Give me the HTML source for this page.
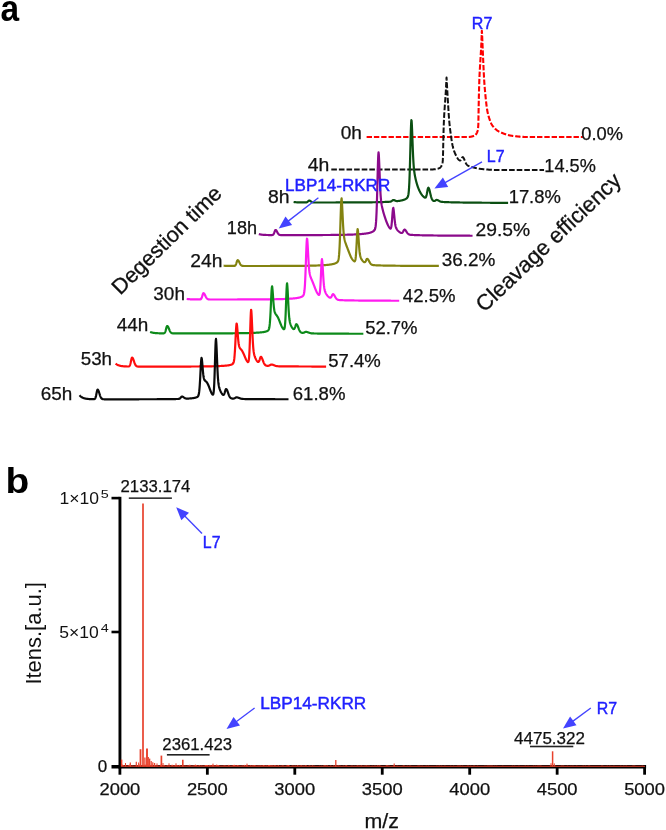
<!DOCTYPE html>
<html><head><meta charset="utf-8"><title>Figure</title>
<style>html,body{margin:0;padding:0;background:#fff;}body{width:666px;height:830px;overflow:hidden;font-family:"Liberation Sans",sans-serif;}svg text{font-family:"Liberation Sans",sans-serif;}</style>
</head><body>
<svg width="666" height="830" viewBox="0 0 666 830" style="display:block;will-change:transform">
<path d="M366.60,137.00 L366.85,137.00 L367.10,137.00 L367.35,137.00 L367.60,137.00 L367.85,137.00 L368.10,137.00 L368.35,137.00 L368.60,137.00 L368.85,137.00 L369.10,137.00 L369.35,137.00 L369.60,137.00 L369.85,137.00 L370.10,137.00 L370.35,137.00 L370.60,137.00 L370.85,137.00 L371.10,137.00 L371.35,137.00 L371.60,137.00 L371.85,137.00 L372.10,137.00 L372.35,137.00 L372.60,137.00 L372.85,137.00 L373.10,137.00 L373.35,137.00 L373.60,137.00 L373.85,137.00 L374.10,137.00 L374.35,137.00 L374.60,137.00 L374.85,137.00 L375.10,137.00 L375.35,137.00 L375.60,137.00 L375.85,137.00 L376.10,137.00 L376.35,137.00 L376.60,137.00 L376.85,137.00 L377.10,137.00 L377.35,137.00 L377.60,137.00 L377.85,137.00 L378.10,137.00 L378.35,137.00 L378.60,137.00 L378.85,137.00 L379.10,137.00 L379.35,137.00 L379.60,137.00 L379.85,137.00 L380.10,137.00 L380.35,137.00 L380.60,137.00 L380.85,137.00 L381.10,137.00 L381.35,137.00 L381.60,137.00 L381.85,137.00 L382.10,137.00 L382.35,137.00 L382.60,137.00 L382.85,137.00 L383.10,137.00 L383.35,137.00 L383.60,137.00 L383.85,137.00 L384.10,137.00 L384.35,137.00 L384.60,137.00 L384.85,137.00 L385.10,137.00 L385.35,137.00 L385.60,137.00 L385.85,137.00 L386.10,137.00 L386.35,137.00 L386.60,137.00 L386.85,137.00 L387.10,137.00 L387.35,137.00 L387.60,137.00 L387.85,137.00 L388.10,137.00 L388.35,137.00 L388.60,137.00 L388.85,137.00 L389.10,137.00 L389.35,137.00 L389.60,137.00 L389.85,137.00 L390.10,137.00 L390.35,137.00 L390.60,137.00 L390.85,137.00 L391.10,137.00 L391.35,137.00 L391.60,137.00 L391.85,137.00 L392.10,137.00 L392.35,137.00 L392.60,137.00 L392.85,137.00 L393.10,137.00 L393.35,137.00 L393.60,137.00 L393.85,137.00 L394.10,137.00 L394.35,137.00 L394.60,137.00 L394.85,137.00 L395.10,137.00 L395.35,137.00 L395.60,137.00 L395.85,137.00 L396.10,137.00 L396.35,137.00 L396.60,137.00 L396.85,137.00 L397.10,137.00 L397.35,137.00 L397.60,137.00 L397.85,137.00 L398.10,137.00 L398.35,137.00 L398.60,137.00 L398.85,137.00 L399.10,137.00 L399.35,137.00 L399.60,137.00 L399.85,137.00 L400.10,137.00 L400.35,137.00 L400.60,137.00 L400.85,137.00 L401.10,137.00 L401.35,137.00 L401.60,137.00 L401.85,137.00 L402.10,137.00 L402.35,137.00 L402.60,137.00 L402.85,137.00 L403.10,137.00 L403.35,137.00 L403.60,137.00 L403.85,137.00 L404.10,137.00 L404.35,137.00 L404.60,137.00 L404.85,137.00 L405.10,137.00 L405.35,137.00 L405.60,137.00 L405.85,137.00 L406.10,137.00 L406.35,137.00 L406.60,137.00 L406.85,137.00 L407.10,137.00 L407.35,137.00 L407.60,137.00 L407.85,137.00 L408.10,137.00 L408.35,137.00 L408.60,137.00 L408.85,137.00 L409.10,137.00 L409.35,137.00 L409.60,137.00 L409.85,137.00 L410.10,137.00 L410.35,137.00 L410.60,137.00 L410.85,137.00 L411.10,137.00 L411.35,137.00 L411.60,137.00 L411.85,137.00 L412.10,137.00 L412.35,137.00 L412.60,137.00 L412.85,137.00 L413.10,137.00 L413.35,137.00 L413.60,137.00 L413.85,137.00 L414.10,137.00 L414.35,137.00 L414.60,137.00 L414.85,137.00 L415.10,137.00 L415.35,137.00 L415.60,137.00 L415.85,137.00 L416.10,137.00 L416.35,137.00 L416.60,137.00 L416.85,137.00 L417.10,137.00 L417.35,137.00 L417.60,137.00 L417.85,137.00 L418.10,137.00 L418.35,137.00 L418.60,137.00 L418.85,137.00 L419.10,137.00 L419.35,137.00 L419.60,137.00 L419.85,137.00 L420.10,137.00 L420.35,137.00 L420.60,137.00 L420.85,137.00 L421.10,137.00 L421.35,137.00 L421.60,137.00 L421.85,137.00 L422.10,137.00 L422.35,137.00 L422.60,137.00 L422.85,137.00 L423.10,137.00 L423.35,137.00 L423.60,137.00 L423.85,137.00 L424.10,137.00 L424.35,137.00 L424.60,137.00 L424.85,137.00 L425.10,137.00 L425.35,137.00 L425.60,137.00 L425.85,137.00 L426.10,137.00 L426.35,137.00 L426.60,137.00 L426.85,137.00 L427.10,137.00 L427.35,137.00 L427.60,137.00 L427.85,137.00 L428.10,137.00 L428.35,137.00 L428.60,137.00 L428.85,137.00 L429.10,137.00 L429.35,137.00 L429.60,137.00 L429.85,137.00 L430.10,137.00 L430.35,137.00 L430.60,137.00 L430.85,137.00 L431.10,137.00 L431.35,137.00 L431.60,137.00 L431.85,137.00 L432.10,137.00 L432.35,137.00 L432.60,137.00 L432.85,137.00 L433.10,137.00 L433.35,137.00 L433.60,137.00 L433.85,137.00 L434.10,137.00 L434.35,137.00 L434.60,137.00 L434.85,137.00 L435.10,137.00 L435.35,137.00 L435.60,137.00 L435.85,137.00 L436.10,137.00 L436.35,137.00 L436.60,137.00 L436.85,137.00 L437.10,137.00 L437.35,137.00 L437.60,137.00 L437.85,137.00 L438.10,137.00 L438.35,137.00 L438.60,137.00 L438.85,137.00 L439.10,137.00 L439.35,137.00 L439.60,137.00 L439.85,137.00 L440.10,137.00 L440.35,137.00 L440.60,137.00 L440.85,137.00 L441.10,137.00 L441.35,137.00 L441.60,137.00 L441.85,137.00 L442.10,137.00 L442.35,137.00 L442.60,137.00 L442.85,137.00 L443.10,137.00 L443.35,137.00 L443.60,137.00 L443.85,137.00 L444.10,137.00 L444.35,137.00 L444.60,137.00 L444.85,137.00 L445.10,137.00 L445.35,137.00 L445.60,137.00 L445.85,137.00 L446.10,137.00 L446.35,137.00 L446.60,137.00 L446.85,137.00 L447.10,137.00 L447.35,137.00 L447.60,137.00 L447.85,137.00 L448.10,137.00 L448.35,137.00 L448.60,137.00 L448.85,137.00 L449.10,137.00 L449.35,137.00 L449.60,137.00 L449.85,137.00 L450.10,137.00 L450.35,137.00 L450.60,137.00 L450.85,137.00 L451.10,137.00 L451.35,137.00 L451.60,137.00 L451.85,137.00 L452.10,137.00 L452.35,137.00 L452.60,137.00 L452.85,137.00 L453.10,137.00 L453.35,137.00 L453.60,137.00 L453.85,137.00 L454.10,137.00 L454.35,137.00 L454.60,137.00 L454.85,137.00 L455.10,137.00 L455.35,137.00 L455.60,137.00 L455.85,137.00 L456.10,137.00 L456.35,137.00 L456.60,137.00 L456.85,137.00 L457.10,137.00 L457.35,137.00 L457.60,137.00 L457.85,137.00 L458.10,137.00 L458.35,137.00 L458.60,137.00 L458.85,137.00 L459.10,137.00 L459.35,137.00 L459.60,137.00 L459.85,137.00 L460.10,137.00 L460.35,137.00 L460.60,137.00 L460.85,137.00 L461.10,137.00 L461.35,137.00 L461.60,137.00 L461.85,137.00 L462.10,137.00 L462.35,137.00 L462.60,137.00 L462.85,137.00 L463.10,137.00 L463.35,137.00 L463.60,137.00 L463.85,137.00 L464.10,137.00 L464.35,137.00 L464.60,137.00 L464.85,137.00 L465.10,137.00 L465.35,137.00 L465.60,137.00 L465.85,137.00 L466.10,137.00 L466.35,137.00 L466.60,137.00 L466.85,137.00 L467.10,137.00 L467.35,137.00 L467.60,137.00 L467.85,137.00 L468.10,137.00 L468.35,136.99 L468.60,136.98 L468.85,136.97 L469.10,136.95 L469.35,136.93 L469.60,136.91 L469.85,136.88 L470.10,136.84 L470.35,136.81 L470.60,136.77 L470.85,136.72 L471.10,136.67 L471.35,136.62 L471.60,136.57 L471.85,136.51 L472.10,136.45 L472.35,136.38 L472.60,136.31 L472.85,136.24 L473.10,136.16 L473.35,136.08 L473.60,136.00 L473.85,135.91 L474.10,135.82 L474.35,135.73 L474.60,135.62 L474.85,135.49 L475.10,135.31 L475.35,135.10 L475.60,134.85 L475.85,134.56 L476.10,134.22 L476.35,133.83 L476.60,133.39 L476.85,132.90 L477.10,132.36 L477.35,131.75 L477.60,131.02 L477.85,129.82 L478.10,127.85 L478.35,124.23 L478.60,110.12 L478.85,97.27 L479.10,87.40 L479.35,79.77 L479.60,74.11 L479.85,69.40 L480.10,64.97 L480.35,60.80 L480.60,56.99 L480.85,53.11 L481.10,48.75 L481.35,43.52 L481.60,37.50 L481.85,30.88 L482.10,34.48 L482.35,40.60 L482.60,46.59 L482.85,52.50 L483.10,58.33 L483.35,63.90 L483.60,69.27 L483.85,74.48 L484.10,79.07 L484.35,82.82 L484.60,86.17 L484.85,89.20 L485.10,91.98 L485.35,94.57 L485.60,97.06 L485.85,99.49 L486.10,101.82 L486.35,104.03 L486.60,106.07 L486.85,107.92 L487.10,109.55 L487.35,110.94 L487.60,112.21 L487.85,113.38 L488.10,114.45 L488.35,115.44 L488.60,116.34 L488.85,117.18 L489.10,117.95 L489.35,118.70 L489.60,119.43 L489.85,120.12 L490.10,120.80 L490.35,121.44 L490.60,122.06 L490.85,122.64 L491.10,123.20 L491.35,123.72 L491.60,124.20 L491.85,124.65 L492.10,125.06 L492.35,125.43 L492.60,125.77 L492.85,126.10 L493.10,126.41 L493.35,126.72 L493.60,127.03 L493.85,127.32 L494.10,127.60 L494.35,127.88 L494.60,128.14 L494.85,128.40 L495.10,128.65 L495.35,128.89 L495.60,129.12 L495.85,129.35 L496.10,129.56 L496.35,129.77 L496.60,129.97 L496.85,130.16 L497.10,130.35 L497.35,130.53 L497.60,130.70 L497.85,130.86 L498.10,131.02 L498.35,131.17 L498.60,131.31 L498.85,131.45 L499.10,131.58 L499.35,131.70 L499.60,131.82 L499.85,131.94 L500.10,132.06 L500.35,132.17 L500.60,132.29 L500.85,132.40 L501.10,132.52 L501.35,132.63 L501.60,132.74 L501.85,132.84 L502.10,132.95 L502.35,133.05 L502.60,133.16 L502.85,133.26 L503.10,133.36 L503.35,133.45 L503.60,133.55 L503.85,133.64 L504.10,133.74 L504.35,133.83 L504.60,133.92 L504.85,134.01 L505.10,134.09 L505.35,134.18 L505.60,134.26 L505.85,134.34 L506.10,134.42 L506.35,134.50 L506.60,134.58 L506.85,134.65 L507.10,134.72 L507.35,134.80 L507.60,134.86 L507.85,134.93 L508.10,135.00 L508.35,135.06 L508.60,135.13 L508.85,135.19 L509.10,135.25 L509.35,135.30 L509.60,135.36 L509.85,135.41 L510.10,135.46 L510.35,135.51 L510.60,135.56 L510.85,135.61 L511.10,135.66 L511.35,135.70 L511.60,135.74 L511.85,135.78 L512.10,135.82 L512.35,135.85 L512.60,135.89 L512.85,135.92 L513.10,135.95 L513.35,135.98 L513.60,136.01 L513.85,136.04 L514.10,136.07 L514.35,136.10 L514.60,136.13 L514.85,136.16 L515.10,136.19 L515.35,136.22 L515.60,136.25 L515.85,136.28 L516.10,136.30 L516.35,136.33 L516.60,136.36 L516.85,136.39 L517.10,136.41 L517.35,136.44 L517.60,136.46 L517.85,136.49 L518.10,136.51 L518.35,136.54 L518.60,136.56 L518.85,136.59 L519.10,136.61 L519.35,136.63 L519.60,136.65 L519.85,136.67 L520.10,136.70 L520.35,136.72 L520.60,136.74 L520.85,136.75 L521.10,136.77 L521.35,136.79 L521.60,136.81 L521.85,136.83 L522.10,136.84 L522.35,136.86 L522.60,136.87 L522.85,136.89 L523.10,136.90 L523.35,136.91 L523.60,136.92 L523.85,136.93 L524.10,136.94 L524.35,136.95 L524.60,136.96 L524.85,136.97 L525.10,136.98 L525.35,136.98 L525.60,136.99 L525.85,136.99 L526.10,137.00 L526.35,137.00 L526.60,137.00 L526.85,137.00 L527.10,137.00 L527.35,137.00 L527.60,137.00 L527.85,137.00 L528.10,137.00 L528.35,137.00 L528.60,137.00 L528.85,137.00 L529.10,137.00 L529.35,137.00 L529.60,137.00 L529.85,137.00 L530.10,137.00 L530.35,137.00 L530.60,137.00 L530.85,137.00 L531.10,137.00 L531.35,137.00 L531.60,137.00 L531.85,137.00 L532.10,137.00 L532.35,137.00 L532.60,137.00 L532.85,137.00 L533.10,137.00 L533.35,137.00 L533.60,137.00 L533.85,137.00 L534.10,137.00 L534.35,137.00 L534.60,137.00 L534.85,137.00 L535.10,137.00 L535.35,137.00 L535.60,137.00 L535.85,137.00 L536.10,137.00 L536.35,137.00 L536.60,137.00 L536.85,137.00 L537.10,137.00 L537.35,137.00 L537.60,137.00 L537.85,137.00 L538.10,137.00 L538.35,137.00 L538.60,137.00 L538.85,137.00 L539.10,137.00 L539.35,137.00 L539.60,137.00 L539.85,137.00 L540.10,137.00 L540.35,137.00 L540.60,137.00 L540.85,137.00 L541.10,137.00 L541.35,137.00 L541.60,137.00 L541.85,137.00 L542.10,137.00 L542.35,137.00 L542.60,137.00 L542.85,137.00 L543.10,137.00 L543.35,137.00 L543.60,137.00 L543.85,137.00 L544.10,137.00 L544.35,137.00 L544.60,137.00 L544.85,137.00 L545.10,137.00 L545.35,137.00 L545.60,137.00 L545.85,137.00 L546.10,137.00 L546.35,137.00 L546.60,137.00 L546.85,137.00 L547.10,137.00 L547.35,137.00 L547.60,137.00 L547.85,137.00 L548.10,137.00 L548.35,137.00 L548.60,137.00 L548.85,137.00 L549.10,137.00 L549.35,137.00 L549.60,137.00 L549.85,137.00 L550.10,137.00 L550.35,137.00 L550.60,137.00 L550.85,137.00 L551.10,137.00 L551.35,137.00 L551.60,137.00 L551.85,137.00 L552.10,137.00 L552.35,137.00 L552.60,137.00 L552.85,137.00 L553.10,137.00 L553.35,137.00 L553.60,137.00 L553.85,137.00 L554.10,137.00 L554.35,137.00 L554.60,137.00 L554.85,137.00 L555.10,137.00 L555.35,137.00 L555.60,137.00 L555.85,137.00 L556.10,137.00 L556.35,137.00 L556.60,137.00 L556.85,137.00 L557.10,137.00 L557.35,137.00 L557.60,137.00 L557.85,137.00 L558.10,137.00 L558.35,137.00 L558.60,137.00 L558.85,137.00 L559.10,137.00 L559.35,137.00 L559.60,137.00 L559.85,137.00 L560.10,137.00 L560.35,137.00 L560.60,137.00 L560.85,137.00 L561.10,137.00 L561.35,137.00 L561.60,137.00 L561.85,137.00 L562.10,137.00 L562.35,137.00 L562.60,137.00 L562.85,137.00 L563.10,137.00 L563.35,137.00 L563.60,137.00 L563.85,137.00 L564.10,137.00 L564.35,137.00 L564.60,137.00 L564.85,137.00 L565.10,137.00 L565.35,137.00 L565.60,137.00 L565.85,137.00 L566.10,137.00 L566.35,137.00 L566.60,137.00 L566.85,137.00 L567.10,137.00 L567.35,137.00 L567.60,137.00 L567.85,137.00 L568.10,137.00 L568.35,137.00 L568.60,137.00 L568.85,137.00 L569.10,137.00 L569.35,137.00 L569.60,137.00 L569.85,137.00 L570.10,137.00 L570.35,137.00 L570.60,137.00 L570.85,137.00 L571.10,137.00 L571.35,137.00 L571.60,137.00 L571.85,137.00 L572.10,137.00 L572.35,137.00 L572.60,137.00 L572.85,137.00 L573.10,137.00 L573.35,137.00 L573.60,137.00 L573.85,137.00 L574.10,137.00 L574.35,137.00 L574.60,137.00 L574.85,137.00 L575.10,137.00 L575.35,137.00 L575.60,137.00 L575.85,137.00 L576.10,137.00 L576.35,137.00 L576.60,137.00 L576.85,137.00 L577.10,137.00 L577.35,137.00 L577.60,137.00 L577.85,137.00 L578.10,137.00 L578.35,137.00 L578.60,137.00 L578.85,137.00 L579.10,137.00 L579.35,137.00 L579.60,137.00 L579.85,137.00 L580.10,137.00 L580.35,137.00 L580.60,137.00 L580.85,137.00 L581.10,137.00 L581.35,137.00 L581.60,137.00 L581.85,137.00 L582.10,137.00 L582.35,137.00 L582.60,137.00 L582.85,137.00" fill="none" stroke="#ff0000" stroke-width="2.1" stroke-linejoin="round" stroke-linecap="butt" stroke-dasharray="5.4 1.9"/>
<path d="M331.30,169.40 L331.55,169.40 L331.80,169.40 L332.05,169.40 L332.30,169.40 L332.55,169.40 L332.80,169.40 L333.05,169.40 L333.30,169.40 L333.55,169.40 L333.80,169.40 L334.05,169.40 L334.30,169.40 L334.55,169.40 L334.80,169.40 L335.05,169.40 L335.30,169.40 L335.55,169.40 L335.80,169.40 L336.05,169.40 L336.30,169.40 L336.55,169.40 L336.80,169.40 L337.05,169.40 L337.30,169.40 L337.55,169.40 L337.80,169.40 L338.05,169.40 L338.30,169.40 L338.55,169.40 L338.80,169.40 L339.05,169.40 L339.30,169.40 L339.55,169.40 L339.80,169.40 L340.05,169.40 L340.30,169.40 L340.55,169.40 L340.80,169.40 L341.05,169.40 L341.30,169.40 L341.55,169.40 L341.80,169.40 L342.05,169.40 L342.30,169.40 L342.55,169.40 L342.80,169.40 L343.05,169.40 L343.30,169.40 L343.55,169.40 L343.80,169.40 L344.05,169.40 L344.30,169.40 L344.55,169.40 L344.80,169.40 L345.05,169.40 L345.30,169.40 L345.55,169.40 L345.80,169.40 L346.05,169.40 L346.30,169.40 L346.55,169.40 L346.80,169.40 L347.05,169.40 L347.30,169.40 L347.55,169.40 L347.80,169.40 L348.05,169.40 L348.30,169.40 L348.55,169.40 L348.80,169.40 L349.05,169.40 L349.30,169.40 L349.55,169.40 L349.80,169.40 L350.05,169.40 L350.30,169.40 L350.55,169.40 L350.80,169.40 L351.05,169.40 L351.30,169.40 L351.55,169.40 L351.80,169.40 L352.05,169.40 L352.30,169.40 L352.55,169.40 L352.80,169.40 L353.05,169.40 L353.30,169.40 L353.55,169.40 L353.80,169.40 L354.05,169.40 L354.30,169.40 L354.55,169.40 L354.80,169.40 L355.05,169.40 L355.30,169.40 L355.55,169.40 L355.80,169.40 L356.05,169.40 L356.30,169.40 L356.55,169.40 L356.80,169.40 L357.05,169.40 L357.30,169.40 L357.55,169.40 L357.80,169.40 L358.05,169.40 L358.30,169.40 L358.55,169.40 L358.80,169.40 L359.05,169.40 L359.30,169.40 L359.55,169.40 L359.80,169.40 L360.05,169.40 L360.30,169.40 L360.55,169.40 L360.80,169.40 L361.05,169.40 L361.30,169.40 L361.55,169.40 L361.80,169.40 L362.05,169.40 L362.30,169.40 L362.55,169.40 L362.80,169.40 L363.05,169.40 L363.30,169.40 L363.55,169.40 L363.80,169.40 L364.05,169.40 L364.30,169.40 L364.55,169.40 L364.80,169.40 L365.05,169.40 L365.30,169.40 L365.55,169.40 L365.80,169.40 L366.05,169.40 L366.30,169.40 L366.55,169.40 L366.80,169.40 L367.05,169.40 L367.30,169.40 L367.55,169.40 L367.80,169.40 L368.05,169.40 L368.30,169.40 L368.55,169.40 L368.80,169.40 L369.05,169.40 L369.30,169.40 L369.55,169.40 L369.80,169.40 L370.05,169.40 L370.30,169.40 L370.55,169.40 L370.80,169.40 L371.05,169.40 L371.30,169.40 L371.55,169.40 L371.80,169.40 L372.05,169.40 L372.30,169.40 L372.55,169.40 L372.80,169.40 L373.05,169.40 L373.30,169.40 L373.55,169.40 L373.80,169.40 L374.05,169.40 L374.30,169.40 L374.55,169.40 L374.80,169.40 L375.05,169.40 L375.30,169.40 L375.55,169.40 L375.80,169.40 L376.05,169.40 L376.30,169.40 L376.55,169.40 L376.80,169.40 L377.05,169.40 L377.30,169.40 L377.55,169.40 L377.80,169.40 L378.05,169.40 L378.30,169.40 L378.55,169.40 L378.80,169.40 L379.05,169.40 L379.30,169.40 L379.55,169.40 L379.80,169.40 L380.05,169.40 L380.30,169.40 L380.55,169.40 L380.80,169.40 L381.05,169.40 L381.30,169.40 L381.55,169.40 L381.80,169.40 L382.05,169.40 L382.30,169.40 L382.55,169.40 L382.80,169.40 L383.05,169.40 L383.30,169.40 L383.55,169.40 L383.80,169.40 L384.05,169.40 L384.30,169.40 L384.55,169.40 L384.80,169.40 L385.05,169.40 L385.30,169.40 L385.55,169.40 L385.80,169.40 L386.05,169.40 L386.30,169.40 L386.55,169.40 L386.80,169.40 L387.05,169.40 L387.30,169.40 L387.55,169.40 L387.80,169.40 L388.05,169.40 L388.30,169.40 L388.55,169.40 L388.80,169.40 L389.05,169.40 L389.30,169.40 L389.55,169.40 L389.80,169.40 L390.05,169.40 L390.30,169.40 L390.55,169.40 L390.80,169.40 L391.05,169.40 L391.30,169.40 L391.55,169.40 L391.80,169.40 L392.05,169.40 L392.30,169.40 L392.55,169.40 L392.80,169.40 L393.05,169.40 L393.30,169.40 L393.55,169.40 L393.80,169.40 L394.05,169.40 L394.30,169.40 L394.55,169.40 L394.80,169.40 L395.05,169.40 L395.30,169.40 L395.55,169.40 L395.80,169.40 L396.05,169.40 L396.30,169.40 L396.55,169.40 L396.80,169.40 L397.05,169.40 L397.30,169.40 L397.55,169.40 L397.80,169.40 L398.05,169.40 L398.30,169.40 L398.55,169.40 L398.80,169.40 L399.05,169.40 L399.30,169.40 L399.55,169.40 L399.80,169.40 L400.05,169.40 L400.30,169.40 L400.55,169.40 L400.80,169.40 L401.05,169.40 L401.30,169.40 L401.55,169.40 L401.80,169.40 L402.05,169.40 L402.30,169.40 L402.55,169.40 L402.80,169.40 L403.05,169.40 L403.30,169.40 L403.55,169.40 L403.80,169.40 L404.05,169.40 L404.30,169.40 L404.55,169.40 L404.80,169.40 L405.05,169.40 L405.30,169.40 L405.55,169.40 L405.80,169.40 L406.05,169.40 L406.30,169.40 L406.55,169.40 L406.80,169.40 L407.05,169.40 L407.30,169.40 L407.55,169.40 L407.80,169.40 L408.05,169.40 L408.30,169.40 L408.55,169.40 L408.80,169.40 L409.05,169.40 L409.30,169.40 L409.55,169.40 L409.80,169.40 L410.05,169.40 L410.30,169.40 L410.55,169.40 L410.80,169.40 L411.05,169.40 L411.30,169.40 L411.55,169.40 L411.80,169.40 L412.05,169.40 L412.30,169.40 L412.55,169.40 L412.80,169.40 L413.05,169.40 L413.30,169.40 L413.55,169.40 L413.80,169.40 L414.05,169.40 L414.30,169.40 L414.55,169.40 L414.80,169.40 L415.05,169.40 L415.30,169.40 L415.55,169.40 L415.80,169.40 L416.05,169.40 L416.30,169.40 L416.55,169.40 L416.80,169.40 L417.05,169.40 L417.30,169.40 L417.55,169.40 L417.80,169.40 L418.05,169.40 L418.30,169.40 L418.55,169.40 L418.80,169.40 L419.05,169.40 L419.30,169.40 L419.55,169.40 L419.80,169.40 L420.05,169.40 L420.30,169.40 L420.55,169.40 L420.80,169.40 L421.05,169.40 L421.30,169.40 L421.55,169.40 L421.80,169.40 L422.05,169.40 L422.30,169.40 L422.55,169.40 L422.80,169.40 L423.05,169.40 L423.30,169.40 L423.55,169.40 L423.80,169.40 L424.05,169.40 L424.30,169.40 L424.55,169.40 L424.80,169.40 L425.05,169.40 L425.30,169.40 L425.55,169.40 L425.80,169.40 L426.05,169.40 L426.30,169.40 L426.55,169.40 L426.80,169.40 L427.05,169.40 L427.30,169.40 L427.55,169.40 L427.80,169.40 L428.05,169.40 L428.30,169.40 L428.55,169.40 L428.80,169.40 L429.05,169.40 L429.30,169.40 L429.55,169.40 L429.80,169.40 L430.05,169.40 L430.30,169.40 L430.55,169.40 L430.80,169.40 L431.05,169.40 L431.30,169.40 L431.55,169.40 L431.80,169.40 L432.05,169.40 L432.30,169.40 L432.55,169.40 L432.80,169.40 L433.05,169.39 L433.30,169.39 L433.55,169.37 L433.80,169.36 L434.05,169.34 L434.30,169.31 L434.55,169.29 L434.80,169.26 L435.05,169.22 L435.30,169.19 L435.55,169.15 L435.80,169.11 L436.05,169.06 L436.30,169.01 L436.55,168.96 L436.80,168.91 L437.05,168.85 L437.30,168.79 L437.55,168.72 L437.80,168.66 L438.05,168.59 L438.30,168.52 L438.55,168.44 L438.80,168.36 L439.05,168.28 L439.30,168.18 L439.55,168.05 L439.80,167.89 L440.05,167.69 L440.30,167.46 L440.55,167.19 L440.80,166.88 L441.05,166.53 L441.30,166.14 L441.55,165.70 L441.80,165.21 L442.05,164.67 L442.30,163.91 L442.55,162.64 L442.80,160.59 L443.05,154.05 L443.30,141.68 L443.55,131.46 L443.80,123.68 L444.05,117.89 L444.30,113.40 L444.55,109.50 L444.80,105.70 L445.05,102.27 L445.30,99.00 L445.55,95.53 L445.80,91.48 L446.05,86.68 L446.30,81.25 L446.55,77.49 L446.80,82.04 L447.05,86.51 L447.30,90.91 L447.55,95.24 L447.80,99.55 L448.05,103.74 L448.30,107.74 L448.55,111.67 L448.80,115.48 L449.05,118.90 L449.30,121.76 L449.55,124.32 L449.80,126.66 L450.05,128.83 L450.30,130.84 L450.55,132.75 L450.80,134.59 L451.05,136.39 L451.30,138.15 L451.55,139.83 L451.80,141.43 L452.05,142.92 L452.30,144.30 L452.55,145.53 L452.80,146.62 L453.05,147.60 L453.30,148.52 L453.55,149.37 L453.80,150.16 L454.05,150.90 L454.30,151.59 L454.55,152.24 L454.80,152.84 L455.05,153.41 L455.30,153.97 L455.55,154.51 L455.80,155.04 L456.05,155.55 L456.30,156.04 L456.55,156.52 L456.80,156.98 L457.05,157.41 L457.30,157.83 L457.55,158.23 L457.80,158.60 L458.05,158.95 L458.30,159.28 L458.55,159.57 L458.80,159.83 L459.05,160.05 L459.30,160.25 L459.55,160.40 L459.80,160.51 L460.05,160.54 L460.30,160.49 L460.55,160.34 L460.80,160.08 L461.05,159.72 L461.30,159.27 L461.55,158.76 L461.80,158.24 L462.05,157.75 L462.30,157.37 L462.55,157.14 L462.80,157.11 L463.05,157.28 L463.30,157.56 L463.55,157.93 L463.80,158.39 L464.05,158.91 L464.30,159.49 L464.55,160.10 L464.80,160.73 L465.05,161.35 L465.30,161.94 L465.55,162.51 L465.80,163.03 L466.05,163.51 L466.30,163.93 L466.55,164.30 L466.80,164.62 L467.05,164.90 L467.30,165.14 L467.55,165.34 L467.80,165.52 L468.05,165.67 L468.30,165.81 L468.55,165.93 L468.80,166.04 L469.05,166.14 L469.30,166.23 L469.55,166.32 L469.80,166.41 L470.05,166.49 L470.30,166.57 L470.55,166.65 L470.80,166.73 L471.05,166.80 L471.30,166.88 L471.55,166.95 L471.80,167.02 L472.05,167.09 L472.30,167.16 L472.55,167.23 L472.80,167.30 L473.05,167.37 L473.30,167.43 L473.55,167.50 L473.80,167.56 L474.05,167.63 L474.30,167.69 L474.55,167.75 L474.80,167.81 L475.05,167.87 L475.30,167.92 L475.55,167.98 L475.80,168.04 L476.05,168.09 L476.30,168.14 L476.55,168.20 L476.80,168.25 L477.05,168.30 L477.30,168.35 L477.55,168.39 L477.80,168.44 L478.05,168.49 L478.30,168.53 L478.55,168.57 L478.80,168.62 L479.05,168.66 L479.30,168.70 L479.55,168.74 L479.80,168.78 L480.05,168.81 L480.30,168.85 L480.55,168.88 L480.80,168.92 L481.05,168.95 L481.30,168.98 L481.55,169.01 L481.80,169.04 L482.05,169.07 L482.30,169.09 L482.55,169.12 L482.80,169.14 L483.05,169.17 L483.30,169.19 L483.55,169.21 L483.80,169.24 L484.05,169.26 L484.30,169.28 L484.55,169.30 L484.80,169.32 L485.05,169.35 L485.30,169.37 L485.55,169.39 L485.80,169.41 L486.05,169.43 L486.30,169.45 L486.55,169.47 L486.80,169.49 L487.05,169.51 L487.30,169.53 L487.55,169.55 L487.80,169.57 L488.05,169.59 L488.30,169.61 L488.55,169.63 L488.80,169.65 L489.05,169.67 L489.30,169.69 L489.55,169.70 L489.80,169.72 L490.05,169.74 L490.30,169.76 L490.55,169.77 L490.80,169.79 L491.05,169.80 L491.30,169.82 L491.55,169.84 L491.80,169.85 L492.05,169.86 L492.30,169.88 L492.55,169.89 L492.80,169.91 L493.05,169.92 L493.30,169.93 L493.55,169.94 L493.80,169.96 L494.05,169.97 L494.30,169.98 L494.55,169.99 L494.80,170.00 L495.05,170.01 L495.30,170.02 L495.55,170.03 L495.80,170.04 L496.05,170.04 L496.30,170.05 L496.55,170.06 L496.80,170.06 L497.05,170.07 L497.30,170.08 L497.55,170.08 L497.80,170.09 L498.05,170.09 L498.30,170.09 L498.55,170.09 L498.80,170.10 L499.05,170.10 L499.30,170.10 L499.55,170.10 L499.80,170.10 L500.05,170.10 L500.30,170.10 L500.55,170.10 L500.80,170.10 L501.05,170.10 L501.30,170.10 L501.55,170.10 L501.80,170.10 L502.05,170.10 L502.30,170.10 L502.55,170.10 L502.80,170.10 L503.05,170.10 L503.30,170.10 L503.55,170.10 L503.80,170.10 L504.05,170.10 L504.30,170.10 L504.55,170.10 L504.80,170.10 L505.05,170.10 L505.30,170.10 L505.55,170.10 L505.80,170.10 L506.05,170.10 L506.30,170.10 L506.55,170.10 L506.80,170.10 L507.05,170.10 L507.30,170.10 L507.55,170.10 L507.80,170.10 L508.05,170.10 L508.30,170.10 L508.55,170.10 L508.80,170.10 L509.05,170.10 L509.30,170.10 L509.55,170.10 L509.80,170.10 L510.05,170.10 L510.30,170.10 L510.55,170.10 L510.80,170.10 L511.05,170.10 L511.30,170.10 L511.55,170.10 L511.80,170.10 L512.05,170.10 L512.30,170.10 L512.55,170.10 L512.80,170.10 L513.05,170.10 L513.30,170.10 L513.55,170.10 L513.80,170.10 L514.05,170.10 L514.30,170.10 L514.55,170.10 L514.80,170.10 L515.05,170.10 L515.30,170.10 L515.55,170.10 L515.80,170.10 L516.05,170.10 L516.30,170.10 L516.55,170.10 L516.80,170.10 L517.05,170.10 L517.30,170.10 L517.55,170.10 L517.80,170.10 L518.05,170.10 L518.30,170.10 L518.55,170.10 L518.80,170.10 L519.05,170.10 L519.30,170.10 L519.55,170.10 L519.80,170.10 L520.05,170.10 L520.30,170.10 L520.55,170.10 L520.80,170.10 L521.05,170.10 L521.30,170.10 L521.55,170.10 L521.80,170.10 L522.05,170.10 L522.30,170.10 L522.55,170.10 L522.80,170.10 L523.05,170.10 L523.30,170.10 L523.55,170.10 L523.80,170.10 L524.05,170.10 L524.30,170.10 L524.55,170.10 L524.80,170.10 L525.05,170.10 L525.30,170.10 L525.55,170.10 L525.80,170.10 L526.05,170.10 L526.30,170.10 L526.55,170.10 L526.80,170.10 L527.05,170.10 L527.30,170.10 L527.55,170.10 L527.80,170.10 L528.05,170.10 L528.30,170.10 L528.55,170.10 L528.80,170.10 L529.05,170.10 L529.30,170.10 L529.55,170.10 L529.80,170.10 L530.05,170.10 L530.30,170.10 L530.55,170.10 L530.80,170.10 L531.05,170.10 L531.30,170.10 L531.55,170.10 L531.80,170.10 L532.05,170.10 L532.30,170.10 L532.55,170.10 L532.80,170.10 L533.05,170.10 L533.30,170.10 L533.55,170.10 L533.80,170.10 L534.05,170.10 L534.30,170.10 L534.55,170.10 L534.80,170.10 L535.05,170.10 L535.30,170.10 L535.55,170.10 L535.80,170.10 L536.05,170.10 L536.30,170.10 L536.55,170.10 L536.80,170.10 L537.05,170.10 L537.30,170.10 L537.55,170.10 L537.80,170.10 L538.05,170.10 L538.30,170.10 L538.55,170.10 L538.80,170.10 L539.05,170.10 L539.30,170.10 L539.55,170.10 L539.80,170.10 L540.05,170.10 L540.30,170.10 L540.55,170.10 L540.80,170.10 L541.05,170.10 L541.30,170.10 L541.55,170.10 L541.80,170.10 L542.05,170.10 L542.30,170.10 L542.55,170.10 L542.80,170.10 L543.05,170.10 L543.30,170.10 L543.55,170.10 L543.80,170.10 L544.05,170.10" fill="none" stroke="#111" stroke-width="2.0" stroke-linejoin="round" stroke-linecap="butt" stroke-dasharray="5.6 2.0"/>
<path d="M293.60,201.99 L293.85,202.03 L294.10,202.06 L294.35,202.09 L294.60,202.12 L294.85,202.14 L295.10,202.17 L295.35,202.19 L295.60,202.21 L295.85,202.23 L296.10,202.25 L296.35,202.27 L296.60,202.28 L296.85,202.30 L297.10,202.31 L297.35,202.32 L297.60,202.33 L297.85,202.35 L298.10,202.36 L298.35,202.37 L298.60,202.37 L298.85,202.38 L299.10,202.39 L299.35,202.40 L299.60,202.40 L299.85,202.41 L300.10,202.42 L300.35,202.42 L300.60,202.43 L300.85,202.43 L301.10,202.43 L301.35,202.44 L301.60,202.44 L301.85,202.45 L302.10,202.45 L302.35,202.45 L302.60,202.45 L302.85,202.46 L303.10,202.46 L303.35,202.46 L303.60,202.46 L303.85,202.47 L304.10,202.47 L304.35,202.47 L304.60,202.47 L304.85,202.47 L305.10,202.47 L305.35,202.47 L305.60,202.46 L305.85,202.45 L306.10,202.42 L306.35,202.39 L306.60,202.33 L306.85,202.24 L307.10,202.13 L307.35,201.97 L307.60,201.79 L307.85,201.57 L308.10,201.33 L308.35,201.10 L308.60,200.88 L308.85,200.71 L309.10,200.61 L309.35,200.59 L309.60,200.62 L309.85,200.71 L310.10,200.84 L310.35,201.00 L310.60,201.18 L310.85,201.37 L311.10,201.56 L311.35,201.74 L311.60,201.90 L311.85,202.04 L312.10,202.16 L312.35,202.25 L312.60,202.32 L312.85,202.37 L313.10,202.41 L313.35,202.44 L313.60,202.46 L313.85,202.47 L314.10,202.48 L314.35,202.48 L314.60,202.48 L314.85,202.49 L315.10,202.49 L315.35,202.49 L315.60,202.49 L315.85,202.49 L316.10,202.49 L316.35,202.49 L316.60,202.49 L316.85,202.49 L317.10,202.49 L317.35,202.49 L317.60,202.49 L317.85,202.49 L318.10,202.49 L318.35,202.49 L318.60,202.49 L318.85,202.49 L319.10,202.49 L319.35,202.49 L319.60,202.49 L319.85,202.49 L320.10,202.49 L320.35,202.49 L320.60,202.49 L320.85,202.49 L321.10,202.49 L321.35,202.49 L321.60,202.49 L321.85,202.49 L322.10,202.49 L322.35,202.49 L322.60,202.49 L322.85,202.49 L323.10,202.49 L323.35,202.49 L323.60,202.49 L323.85,202.49 L324.10,202.49 L324.35,202.49 L324.60,202.49 L324.85,202.48 L325.10,202.48 L325.35,202.48 L325.60,202.48 L325.85,202.48 L326.10,202.48 L326.35,202.48 L326.60,202.48 L326.85,202.48 L327.10,202.48 L327.35,202.48 L327.60,202.48 L327.85,202.48 L328.10,202.48 L328.35,202.48 L328.60,202.48 L328.85,202.48 L329.10,202.48 L329.35,202.48 L329.60,202.48 L329.85,202.48 L330.10,202.48 L330.35,202.48 L330.60,202.48 L330.85,202.48 L331.10,202.48 L331.35,202.48 L331.60,202.48 L331.85,202.48 L332.10,202.48 L332.35,202.48 L332.60,202.48 L332.85,202.48 L333.10,202.48 L333.35,202.48 L333.60,202.48 L333.85,202.48 L334.10,202.48 L334.35,202.48 L334.60,202.48 L334.85,202.48 L335.10,202.48 L335.35,202.48 L335.60,202.48 L335.85,202.47 L336.10,202.47 L336.35,202.47 L336.60,202.47 L336.85,202.47 L337.10,202.47 L337.35,202.47 L337.60,202.47 L337.85,202.47 L338.10,202.47 L338.35,202.47 L338.60,202.47 L338.85,202.47 L339.10,202.47 L339.35,202.47 L339.60,202.47 L339.85,202.47 L340.10,202.47 L340.35,202.47 L340.60,202.47 L340.85,202.47 L341.10,202.47 L341.35,202.47 L341.60,202.47 L341.85,202.47 L342.10,202.47 L342.35,202.46 L342.60,202.46 L342.85,202.46 L343.10,202.46 L343.35,202.46 L343.60,202.46 L343.85,202.46 L344.10,202.46 L344.35,202.46 L344.60,202.46 L344.85,202.46 L345.10,202.46 L345.35,202.46 L345.60,202.46 L345.85,202.46 L346.10,202.46 L346.35,202.46 L346.60,202.46 L346.85,202.45 L347.10,202.45 L347.35,202.45 L347.60,202.45 L347.85,202.45 L348.10,202.45 L348.35,202.45 L348.60,202.45 L348.85,202.45 L349.10,202.45 L349.35,202.45 L349.60,202.45 L349.85,202.45 L350.10,202.45 L350.35,202.44 L350.60,202.44 L350.85,202.44 L351.10,202.44 L351.35,202.44 L351.60,202.44 L351.85,202.44 L352.10,202.44 L352.35,202.44 L352.60,202.44 L352.85,202.44 L353.10,202.44 L353.35,202.43 L353.60,202.43 L353.85,202.43 L354.10,202.43 L354.35,202.43 L354.60,202.43 L354.85,202.43 L355.10,202.43 L355.35,202.43 L355.60,202.42 L355.85,202.42 L356.10,202.42 L356.35,202.42 L356.60,202.42 L356.85,202.42 L357.10,202.42 L357.35,202.42 L357.60,202.41 L357.85,202.41 L358.10,202.41 L358.35,202.41 L358.60,202.41 L358.85,202.41 L359.10,202.41 L359.35,202.40 L359.60,202.40 L359.85,202.40 L360.10,202.40 L360.35,202.40 L360.60,202.40 L360.85,202.40 L361.10,202.39 L361.35,202.39 L361.60,202.39 L361.85,202.39 L362.10,202.39 L362.35,202.38 L362.60,202.38 L362.85,202.38 L363.10,202.38 L363.35,202.38 L363.60,202.38 L363.85,202.37 L364.10,202.37 L364.35,202.37 L364.60,202.37 L364.85,202.36 L365.10,202.36 L365.35,202.36 L365.60,202.36 L365.85,202.36 L366.10,202.35 L366.35,202.35 L366.60,202.35 L366.85,202.35 L367.10,202.34 L367.35,202.34 L367.60,202.34 L367.85,202.34 L368.10,202.33 L368.35,202.33 L368.60,202.33 L368.85,202.32 L369.10,202.32 L369.35,202.32 L369.60,202.32 L369.85,202.31 L370.10,202.31 L370.35,202.31 L370.60,202.30 L370.85,202.30 L371.10,202.30 L371.35,202.29 L371.60,202.29 L371.85,202.29 L372.10,202.28 L372.35,202.28 L372.60,202.27 L372.85,202.27 L373.10,202.27 L373.35,202.26 L373.60,202.26 L373.85,202.25 L374.10,202.25 L374.35,202.25 L374.60,202.24 L374.85,202.24 L375.10,202.23 L375.35,202.23 L375.60,202.22 L375.85,202.22 L376.10,202.21 L376.35,202.21 L376.60,202.20 L376.85,202.20 L377.10,202.19 L377.35,202.19 L377.60,202.18 L377.85,202.18 L378.10,202.17 L378.35,202.17 L378.60,202.16 L378.85,202.15 L379.10,202.15 L379.35,202.14 L379.60,202.14 L379.85,202.13 L380.10,202.12 L380.35,202.12 L380.60,202.11 L380.85,202.10 L381.10,202.10 L381.35,202.09 L381.60,202.08 L381.85,202.07 L382.10,202.07 L382.35,202.06 L382.60,202.05 L382.85,202.04 L383.10,202.03 L383.35,202.03 L383.60,202.02 L383.85,202.01 L384.10,202.00 L384.35,201.99 L384.60,201.98 L384.85,201.97 L385.10,201.96 L385.35,201.95 L385.60,201.94 L385.85,201.93 L386.10,201.92 L386.35,201.91 L386.60,201.90 L386.85,201.89 L387.10,201.88 L387.35,201.87 L387.60,201.85 L387.85,201.84 L388.10,201.83 L388.35,201.82 L388.60,201.80 L388.85,201.79 L389.10,201.78 L389.35,201.76 L389.60,201.74 L389.85,201.72 L390.10,201.69 L390.35,201.65 L390.60,201.59 L390.85,201.52 L391.10,201.42 L391.35,201.30 L391.60,201.14 L391.85,200.96 L392.10,200.76 L392.35,200.55 L392.60,200.36 L392.85,200.19 L393.10,200.07 L393.35,200.00 L393.60,200.00 L393.85,200.03 L394.10,200.10 L394.35,200.19 L394.60,200.31 L394.85,200.44 L395.10,200.56 L395.35,200.69 L395.60,200.79 L395.85,200.88 L396.10,200.96 L396.35,201.01 L396.60,201.05 L396.85,201.07 L397.10,201.07 L397.35,201.07 L397.60,201.05 L397.85,201.03 L398.10,201.01 L398.35,200.98 L398.60,200.95 L398.85,200.92 L399.10,200.88 L399.35,200.84 L399.60,200.80 L399.85,200.76 L400.10,200.72 L400.35,200.68 L400.60,200.63 L400.85,200.58 L401.10,200.53 L401.35,200.48 L401.60,200.43 L401.85,200.37 L402.10,200.31 L402.35,200.25 L402.60,200.18 L402.85,200.11 L403.10,200.04 L403.35,199.96 L403.60,199.88 L403.85,199.80 L404.10,199.71 L404.35,199.61 L404.60,199.51 L404.85,199.40 L405.10,199.28 L405.35,199.15 L405.60,199.01 L405.85,198.86 L406.10,198.70 L406.35,198.53 L406.60,198.33 L406.85,198.11 L407.10,197.86 L407.35,197.56 L407.60,197.17 L407.85,196.64 L408.10,195.87 L408.35,194.74 L408.60,193.06 L408.85,190.58 L409.10,187.05 L409.35,182.21 L409.60,175.88 L409.85,168.05 L410.10,158.97 L410.35,149.16 L410.60,139.40 L410.85,130.67 L411.10,123.99 L411.35,120.20 L411.60,120.67 L411.85,124.74 L412.10,130.33 L412.35,136.86 L412.60,143.69 L412.85,150.21 L413.10,155.99 L413.35,160.84 L413.60,164.74 L413.85,167.82 L414.10,170.25 L414.35,172.21 L414.60,173.86 L414.85,175.30 L415.10,176.59 L415.35,177.80 L415.60,178.92 L415.85,179.99 L416.10,181.01 L416.35,181.97 L416.60,182.89 L416.85,183.77 L417.10,184.60 L417.35,185.40 L417.60,186.15 L417.85,186.87 L418.10,187.56 L418.35,188.22 L418.60,188.84 L418.85,189.44 L419.10,190.01 L419.35,190.55 L419.60,191.06 L419.85,191.55 L420.10,192.02 L420.35,192.47 L420.60,192.90 L420.85,193.30 L421.10,193.69 L421.35,194.06 L421.60,194.41 L421.85,194.75 L422.10,195.07 L422.35,195.38 L422.60,195.67 L422.85,195.95 L423.10,196.22 L423.35,196.47 L423.60,196.71 L423.85,196.94 L424.10,197.15 L424.35,197.34 L424.60,197.50 L424.85,197.62 L425.10,197.68 L425.35,197.66 L425.60,197.51 L425.85,197.20 L426.10,196.70 L426.35,195.97 L426.60,195.00 L426.85,193.82 L427.10,192.49 L427.35,191.10 L427.60,189.79 L427.85,188.71 L428.10,187.99 L428.35,187.73 L428.60,187.89 L428.85,188.28 L429.10,188.87 L429.35,189.65 L429.60,190.56 L429.85,191.57 L430.10,192.64 L430.35,193.72 L430.60,194.78 L430.85,195.78 L431.10,196.70 L431.35,197.52 L431.60,198.24 L431.85,198.86 L432.10,199.37 L432.35,199.80 L432.60,200.13 L432.85,200.40 L433.10,200.61 L433.35,200.77 L433.60,200.88 L433.85,200.95 L434.10,200.98 L434.35,200.98 L434.60,200.93 L434.85,200.85 L435.10,200.73 L435.35,200.59 L435.60,200.42 L435.85,200.25 L436.10,200.10 L436.35,199.99 L436.60,199.93 L436.85,199.94 L437.10,199.98 L437.35,200.05 L437.60,200.14 L437.85,200.24 L438.10,200.36 L438.35,200.49 L438.60,200.63 L438.85,200.77 L439.10,200.91 L439.35,201.05 L439.60,201.18 L439.85,201.30 L440.10,201.40 L440.35,201.50 L440.60,201.58 L440.85,201.66 L441.10,201.72 L441.35,201.77 L441.60,201.82 L441.85,201.86 L442.10,201.89 L442.35,201.92 L442.60,201.94 L442.85,201.96 L443.10,201.98 L443.35,202.00 L443.60,202.01 L443.85,202.02 L444.10,202.04 L444.35,202.05 L444.60,202.06 L444.85,202.07 L445.10,202.08 L445.35,202.09 L445.60,202.10 L445.85,202.11 L446.10,202.12 L446.35,202.13 L446.60,202.14 L446.85,202.15 L447.10,202.16 L447.35,202.17 L447.60,202.18 L447.85,202.19 L448.10,202.20 L448.35,202.20 L448.60,202.21 L448.85,202.22 L449.10,202.23 L449.35,202.24 L449.60,202.24 L449.85,202.25 L450.10,202.26 L450.35,202.27 L450.60,202.27 L450.85,202.28 L451.10,202.29 L451.35,202.29 L451.60,202.30 L451.85,202.31 L452.10,202.31 L452.35,202.32 L452.60,202.33 L452.85,202.33 L453.10,202.34 L453.35,202.34 L453.60,202.35 L453.85,202.36 L454.10,202.36 L454.35,202.37 L454.60,202.37 L454.85,202.38 L455.10,202.38 L455.35,202.39 L455.60,202.40 L455.85,202.40 L456.10,202.41 L456.35,202.41 L456.60,202.42 L456.85,202.42 L457.10,202.43 L457.35,202.43 L457.60,202.44 L457.85,202.44 L458.10,202.45 L458.35,202.45 L458.60,202.45 L458.85,202.46 L459.10,202.46 L459.35,202.47 L459.60,202.47 L459.85,202.48 L460.10,202.48 L460.35,202.49 L460.60,202.49 L460.85,202.49 L461.10,202.50 L461.35,202.50 L461.60,202.51 L461.85,202.51 L462.10,202.51 L462.35,202.52 L462.60,202.52 L462.85,202.53 L463.10,202.53 L463.35,202.53 L463.60,202.54 L463.85,202.54 L464.10,202.54 L464.35,202.55 L464.60,202.55 L464.85,202.56 L465.10,202.56 L465.35,202.56 L465.60,202.57 L465.85,202.57 L466.10,202.57 L466.35,202.58 L466.60,202.58 L466.85,202.58 L467.10,202.59 L467.35,202.59 L467.60,202.59 L467.85,202.59 L468.10,202.60 L468.35,202.60 L468.60,202.60 L468.85,202.61 L469.10,202.61 L469.35,202.61 L469.60,202.62 L469.85,202.62 L470.10,202.62 L470.35,202.62 L470.60,202.63 L470.85,202.63 L471.10,202.63 L471.35,202.63 L471.60,202.64 L471.85,202.64 L472.10,202.64 L472.35,202.65 L472.60,202.65 L472.85,202.65 L473.10,202.65 L473.35,202.66 L473.60,202.66 L473.85,202.66 L474.10,202.66 L474.35,202.66 L474.60,202.67 L474.85,202.67 L475.10,202.67 L475.35,202.67 L475.60,202.68 L475.85,202.68 L476.10,202.68 L476.35,202.68 L476.60,202.68 L476.85,202.69 L477.10,202.69 L477.35,202.69 L477.60,202.69 L477.85,202.70 L478.10,202.70 L478.35,202.70 L478.60,202.70 L478.85,202.70 L479.10,202.71 L479.35,202.71 L479.60,202.71 L479.85,202.71 L480.10,202.71 L480.35,202.71 L480.60,202.72 L480.85,202.72 L481.10,202.72 L481.35,202.72 L481.60,202.72 L481.85,202.73 L482.10,202.73 L482.35,202.73 L482.60,202.73 L482.85,202.73 L483.10,202.73 L483.35,202.74 L483.60,202.74 L483.85,202.74 L484.10,202.74 L484.35,202.74 L484.60,202.74 L484.85,202.75 L485.10,202.75 L485.35,202.75 L485.60,202.75 L485.85,202.75 L486.10,202.75 L486.35,202.75 L486.60,202.76 L486.85,202.76 L487.10,202.76 L487.35,202.76 L487.60,202.76 L487.85,202.76 L488.10,202.76 L488.35,202.77 L488.60,202.77 L488.85,202.77 L489.10,202.77 L489.35,202.77 L489.60,202.77 L489.85,202.77 L490.10,202.77 L490.35,202.78 L490.60,202.78 L490.85,202.78 L491.10,202.78 L491.35,202.78 L491.60,202.78 L491.85,202.78 L492.10,202.78 L492.35,202.79 L492.60,202.79 L492.85,202.79 L493.10,202.79 L493.35,202.79 L493.60,202.79 L493.85,202.79 L494.10,202.79 L494.35,202.79 L494.60,202.80 L494.85,202.80 L495.10,202.80 L495.35,202.80 L495.60,202.80 L495.85,202.80 L496.10,202.80 L496.35,202.80 L496.60,202.80 L496.85,202.80 L497.10,202.81 L497.35,202.81 L497.60,202.81 L497.85,202.81 L498.10,202.81 L498.35,202.81 L498.60,202.81 L498.85,202.81 L499.10,202.81 L499.35,202.81 L499.60,202.81 L499.85,202.82 L500.10,202.82 L500.35,202.82 L500.60,202.82 L500.85,202.82 L501.10,202.82 L501.35,202.82 L501.60,202.82 L501.85,202.82 L502.10,202.82 L502.35,202.82 L502.60,202.82 L502.85,202.82 L503.10,202.83 L503.35,202.83 L503.60,202.83 L503.85,202.83 L504.10,202.83 L504.35,202.83 L504.60,202.83 L504.85,202.83 L505.10,202.83 L505.35,202.83 L505.60,202.83 L505.85,202.83 L506.10,202.83 L506.35,202.83 L506.60,202.84 L506.85,202.84 L507.10,202.84 L507.35,202.84 L507.60,202.84 L507.85,202.84 L508.10,202.84" fill="none" stroke="#0b4f12" stroke-width="2.2" stroke-linejoin="round" stroke-linecap="butt"/>
<path d="M258.80,234.09 L259.05,234.16 L259.30,234.23 L259.55,234.29 L259.80,234.34 L260.05,234.39 L260.30,234.44 L260.55,234.49 L260.80,234.53 L261.05,234.57 L261.30,234.60 L261.55,234.64 L261.80,234.67 L262.05,234.70 L262.30,234.73 L262.55,234.75 L262.80,234.78 L263.05,234.80 L263.30,234.82 L263.55,234.84 L263.80,234.85 L264.05,234.87 L264.30,234.89 L264.55,234.90 L264.80,234.91 L265.05,234.93 L265.30,234.94 L265.55,234.95 L265.80,234.96 L266.05,234.97 L266.30,234.98 L266.55,234.98 L266.80,234.99 L267.05,235.00 L267.30,235.01 L267.55,235.01 L267.80,235.02 L268.05,235.02 L268.30,235.03 L268.55,235.03 L268.80,235.04 L269.05,235.04 L269.30,235.04 L269.55,235.05 L269.80,235.05 L270.05,235.05 L270.30,235.06 L270.55,235.06 L270.80,235.06 L271.05,235.06 L271.30,235.06 L271.55,235.06 L271.80,235.06 L272.05,235.04 L272.30,235.01 L272.55,234.96 L272.80,234.87 L273.05,234.73 L273.30,234.50 L273.55,234.18 L273.80,233.74 L274.05,233.19 L274.30,232.54 L274.55,231.85 L274.80,231.17 L275.05,230.58 L275.30,230.17 L275.55,229.99 L275.80,230.02 L276.05,230.18 L276.30,230.45 L276.55,230.81 L276.80,231.24 L277.05,231.70 L277.30,232.19 L277.55,232.66 L277.80,233.11 L278.05,233.51 L278.30,233.86 L278.55,234.16 L278.80,234.40 L279.05,234.59 L279.30,234.74 L279.55,234.85 L279.80,234.93 L280.05,234.98 L280.30,235.02 L280.55,235.05 L280.80,235.06 L281.05,235.07 L281.30,235.08 L281.55,235.08 L281.80,235.09 L282.05,235.09 L282.30,235.09 L282.55,235.09 L282.80,235.09 L283.05,235.09 L283.30,235.09 L283.55,235.09 L283.80,235.09 L284.05,235.09 L284.30,235.09 L284.55,235.09 L284.80,235.09 L285.05,235.09 L285.30,235.09 L285.55,235.09 L285.80,235.09 L286.05,235.09 L286.30,235.09 L286.55,235.09 L286.80,235.09 L287.05,235.09 L287.30,235.09 L287.55,235.09 L287.80,235.09 L288.05,235.09 L288.30,235.09 L288.55,235.09 L288.80,235.09 L289.05,235.09 L289.30,235.09 L289.55,235.09 L289.80,235.09 L290.05,235.09 L290.30,235.09 L290.55,235.09 L290.80,235.09 L291.05,235.09 L291.30,235.09 L291.55,235.09 L291.80,235.08 L292.05,235.08 L292.30,235.08 L292.55,235.08 L292.80,235.08 L293.05,235.08 L293.30,235.08 L293.55,235.08 L293.80,235.08 L294.05,235.08 L294.30,235.08 L294.55,235.08 L294.80,235.08 L295.05,235.08 L295.30,235.08 L295.55,235.08 L295.80,235.08 L296.05,235.08 L296.30,235.08 L296.55,235.08 L296.80,235.08 L297.05,235.08 L297.30,235.08 L297.55,235.08 L297.80,235.08 L298.05,235.08 L298.30,235.08 L298.55,235.08 L298.80,235.08 L299.05,235.08 L299.30,235.08 L299.55,235.08 L299.80,235.08 L300.05,235.08 L300.30,235.08 L300.55,235.08 L300.80,235.08 L301.05,235.08 L301.30,235.08 L301.55,235.08 L301.80,235.08 L302.05,235.08 L302.30,235.08 L302.55,235.08 L302.80,235.08 L303.05,235.07 L303.30,235.07 L303.55,235.07 L303.80,235.07 L304.05,235.07 L304.30,235.07 L304.55,235.07 L304.80,235.07 L305.05,235.07 L305.30,235.07 L305.55,235.07 L305.80,235.07 L306.05,235.07 L306.30,235.07 L306.55,235.07 L306.80,235.07 L307.05,235.07 L307.30,235.07 L307.55,235.07 L307.80,235.07 L308.05,235.07 L308.30,235.07 L308.55,235.07 L308.80,235.07 L309.05,235.07 L309.30,235.07 L309.55,235.06 L309.80,235.06 L310.05,235.06 L310.30,235.06 L310.55,235.06 L310.80,235.06 L311.05,235.06 L311.30,235.06 L311.55,235.06 L311.80,235.06 L312.05,235.06 L312.30,235.06 L312.55,235.06 L312.80,235.06 L313.05,235.06 L313.30,235.06 L313.55,235.06 L313.80,235.06 L314.05,235.05 L314.30,235.05 L314.55,235.05 L314.80,235.05 L315.05,235.05 L315.30,235.05 L315.55,235.05 L315.80,235.05 L316.05,235.05 L316.30,235.05 L316.55,235.05 L316.80,235.05 L317.05,235.05 L317.30,235.05 L317.55,235.04 L317.80,235.04 L318.05,235.04 L318.30,235.04 L318.55,235.04 L318.80,235.04 L319.05,235.04 L319.30,235.04 L319.55,235.04 L319.80,235.04 L320.05,235.04 L320.30,235.03 L320.55,235.03 L320.80,235.03 L321.05,235.03 L321.30,235.03 L321.55,235.03 L321.80,235.03 L322.05,235.03 L322.30,235.03 L322.55,235.03 L322.80,235.02 L323.05,235.02 L323.30,235.02 L323.55,235.02 L323.80,235.02 L324.05,235.02 L324.30,235.02 L324.55,235.02 L324.80,235.01 L325.05,235.01 L325.30,235.01 L325.55,235.01 L325.80,235.01 L326.05,235.01 L326.30,235.01 L326.55,235.00 L326.80,235.00 L327.05,235.00 L327.30,235.00 L327.55,235.00 L327.80,235.00 L328.05,235.00 L328.30,234.99 L328.55,234.99 L328.80,234.99 L329.05,234.99 L329.30,234.99 L329.55,234.98 L329.80,234.98 L330.05,234.98 L330.30,234.98 L330.55,234.98 L330.80,234.97 L331.05,234.97 L331.30,234.97 L331.55,234.97 L331.80,234.97 L332.05,234.96 L332.30,234.96 L332.55,234.96 L332.80,234.96 L333.05,234.96 L333.30,234.95 L333.55,234.95 L333.80,234.95 L334.05,234.95 L334.30,234.94 L334.55,234.94 L334.80,234.94 L335.05,234.94 L335.30,234.93 L335.55,234.93 L335.80,234.93 L336.05,234.92 L336.30,234.92 L336.55,234.92 L336.80,234.91 L337.05,234.91 L337.30,234.91 L337.55,234.91 L337.80,234.90 L338.05,234.90 L338.30,234.90 L338.55,234.89 L338.80,234.89 L339.05,234.88 L339.30,234.88 L339.55,234.88 L339.80,234.87 L340.05,234.87 L340.30,234.87 L340.55,234.86 L340.80,234.86 L341.05,234.85 L341.30,234.85 L341.55,234.85 L341.80,234.84 L342.05,234.84 L342.30,234.83 L342.55,234.83 L342.80,234.82 L343.05,234.82 L343.30,234.81 L343.55,234.81 L343.80,234.80 L344.05,234.80 L344.30,234.79 L344.55,234.79 L344.80,234.78 L345.05,234.78 L345.30,234.77 L345.55,234.76 L345.80,234.76 L346.05,234.75 L346.30,234.75 L346.55,234.74 L346.80,234.73 L347.05,234.73 L347.30,234.72 L347.55,234.71 L347.80,234.71 L348.05,234.70 L348.30,234.69 L348.55,234.69 L348.80,234.68 L349.05,234.67 L349.30,234.66 L349.55,234.66 L349.80,234.65 L350.05,234.64 L350.30,234.63 L350.55,234.62 L350.80,234.62 L351.05,234.61 L351.30,234.60 L351.55,234.59 L351.80,234.58 L352.05,234.57 L352.30,234.56 L352.55,234.55 L352.80,234.54 L353.05,234.53 L353.30,234.52 L353.55,234.51 L353.80,234.50 L354.05,234.49 L354.30,234.48 L354.55,234.46 L354.80,234.45 L355.05,234.44 L355.30,234.43 L355.55,234.42 L355.80,234.40 L356.05,234.39 L356.30,234.38 L356.55,234.36 L356.80,234.35 L357.05,234.33 L357.30,234.32 L357.55,234.31 L357.80,234.29 L358.05,234.27 L358.30,234.26 L358.55,234.24 L358.80,234.23 L359.05,234.21 L359.30,234.19 L359.55,234.17 L359.80,234.16 L360.05,234.14 L360.30,234.12 L360.55,234.10 L360.80,234.08 L361.05,234.06 L361.30,234.04 L361.55,234.02 L361.80,233.99 L362.05,233.97 L362.30,233.95 L362.55,233.92 L362.80,233.90 L363.05,233.87 L363.30,233.85 L363.55,233.82 L363.80,233.79 L364.05,233.77 L364.30,233.74 L364.55,233.71 L364.80,233.68 L365.05,233.65 L365.30,233.61 L365.55,233.58 L365.80,233.54 L366.05,233.51 L366.30,233.47 L366.55,233.43 L366.80,233.39 L367.05,233.35 L367.30,233.31 L367.55,233.26 L367.80,233.22 L368.05,233.17 L368.30,233.12 L368.55,233.07 L368.80,233.01 L369.05,232.95 L369.30,232.89 L369.55,232.83 L369.80,232.76 L370.05,232.69 L370.30,232.62 L370.55,232.54 L370.80,232.46 L371.05,232.37 L371.30,232.28 L371.55,232.18 L371.80,232.07 L372.05,231.96 L372.30,231.84 L372.55,231.71 L372.80,231.56 L373.05,231.41 L373.30,231.25 L373.55,231.06 L373.80,230.86 L374.05,230.63 L374.30,230.36 L374.55,230.03 L374.80,229.59 L375.05,228.98 L375.30,228.09 L375.55,226.76 L375.80,224.80 L376.05,221.93 L376.30,217.91 L376.55,212.50 L376.80,205.57 L377.05,197.22 L377.30,187.78 L377.55,177.89 L377.80,168.43 L378.05,160.40 L378.30,154.78 L378.55,152.27 L378.80,154.67 L379.05,159.33 L379.30,165.28 L379.55,171.91 L379.80,178.57 L380.05,184.72 L380.30,190.02 L380.55,194.36 L380.80,197.78 L381.05,200.45 L381.30,202.54 L381.55,204.23 L381.80,205.65 L382.05,206.90 L382.30,208.04 L382.55,209.10 L382.80,210.10 L383.05,211.05 L383.30,211.97 L383.55,212.86 L383.80,213.72 L384.05,214.55 L384.30,215.37 L384.55,216.16 L384.80,216.94 L385.05,217.70 L385.30,218.45 L385.55,219.17 L385.80,219.88 L386.05,220.57 L386.30,221.25 L386.55,221.90 L386.80,222.53 L387.05,223.14 L387.30,223.72 L387.55,224.28 L387.80,224.82 L388.05,225.33 L388.30,225.82 L388.55,226.28 L388.80,226.71 L389.05,227.12 L389.30,227.51 L389.55,227.86 L389.80,228.18 L390.05,228.43 L390.30,228.59 L390.55,228.61 L390.80,228.38 L391.05,227.79 L391.30,226.72 L391.55,225.04 L391.80,222.69 L392.05,219.75 L392.30,216.44 L392.55,213.12 L392.80,210.28 L393.05,208.40 L393.30,207.84 L393.55,209.14 L393.80,211.11 L394.05,213.55 L394.30,216.21 L394.55,218.83 L394.80,221.20 L395.05,223.20 L395.30,224.81 L395.55,226.06 L395.80,227.01 L396.05,227.74 L396.30,228.32 L396.55,228.80 L396.80,229.21 L397.05,229.58 L397.30,229.91 L397.55,230.22 L397.80,230.51 L398.05,230.78 L398.30,231.03 L398.55,231.27 L398.80,231.49 L399.05,231.70 L399.30,231.89 L399.55,232.07 L399.80,232.24 L400.05,232.40 L400.30,232.55 L400.55,232.68 L400.80,232.80 L401.05,232.90 L401.30,232.97 L401.55,233.00 L401.80,232.99 L402.05,232.91 L402.30,232.76 L402.55,232.52 L402.80,232.18 L403.05,231.77 L403.30,231.29 L403.55,230.79 L403.80,230.32 L404.05,229.94 L404.30,229.69 L404.55,229.61 L404.80,229.68 L405.05,229.83 L405.30,230.04 L405.55,230.32 L405.80,230.65 L406.05,231.01 L406.30,231.40 L406.55,231.79 L406.80,232.18 L407.05,232.55 L407.30,232.91 L407.55,233.23 L407.80,233.51 L408.05,233.76 L408.30,233.98 L408.55,234.16 L408.80,234.31 L409.05,234.44 L409.30,234.54 L409.55,234.62 L409.80,234.68 L410.05,234.73 L410.30,234.77 L410.55,234.81 L410.80,234.84 L411.05,234.86 L411.30,234.88 L411.55,234.90 L411.80,234.92 L412.05,234.93 L412.30,234.95 L412.55,234.96 L412.80,234.97 L413.05,234.99 L413.30,235.00 L413.55,235.01 L413.80,235.02 L414.05,235.03 L414.30,235.04 L414.55,235.05 L414.80,235.06 L415.05,235.07 L415.30,235.08 L415.55,235.09 L415.80,235.10 L416.05,235.11 L416.30,235.12 L416.55,235.13 L416.80,235.14 L417.05,235.15 L417.30,235.15 L417.55,235.16 L417.80,235.17 L418.05,235.18 L418.30,235.18 L418.55,235.19 L418.80,235.20 L419.05,235.21 L419.30,235.21 L419.55,235.22 L419.80,235.23 L420.05,235.23 L420.30,235.24 L420.55,235.24 L420.80,235.25 L421.05,235.26 L421.30,235.26 L421.55,235.27 L421.80,235.27 L422.05,235.28 L422.30,235.29 L422.55,235.29 L422.80,235.30 L423.05,235.30 L423.30,235.31 L423.55,235.31 L423.80,235.32 L424.05,235.32 L424.30,235.33 L424.55,235.33 L424.80,235.34 L425.05,235.34 L425.30,235.35 L425.55,235.35 L425.80,235.36 L426.05,235.36 L426.30,235.37 L426.55,235.37 L426.80,235.38 L427.05,235.38 L427.30,235.38 L427.55,235.39 L427.80,235.39 L428.05,235.40 L428.30,235.40 L428.55,235.40 L428.80,235.41 L429.05,235.41 L429.30,235.42 L429.55,235.42 L429.80,235.42 L430.05,235.43 L430.30,235.43 L430.55,235.44 L430.80,235.44 L431.05,235.44 L431.30,235.45 L431.55,235.45 L431.80,235.45 L432.05,235.46 L432.30,235.46 L432.55,235.46 L432.80,235.47 L433.05,235.47 L433.30,235.47 L433.55,235.48 L433.80,235.48 L434.05,235.48 L434.30,235.49 L434.55,235.49 L434.80,235.49 L435.05,235.50 L435.30,235.50 L435.55,235.50 L435.80,235.51 L436.05,235.51 L436.30,235.51 L436.55,235.51 L436.80,235.52 L437.05,235.52 L437.30,235.52 L437.55,235.53 L437.80,235.53 L438.05,235.53 L438.30,235.53 L438.55,235.54 L438.80,235.54 L439.05,235.54 L439.30,235.54 L439.55,235.55 L439.80,235.55 L440.05,235.55 L440.30,235.55 L440.55,235.56 L440.80,235.56 L441.05,235.56 L441.30,235.56 L441.55,235.57 L441.80,235.57 L442.05,235.57 L442.30,235.57 L442.55,235.58 L442.80,235.58 L443.05,235.58 L443.30,235.58 L443.55,235.58 L443.80,235.59 L444.05,235.59 L444.30,235.59 L444.55,235.59 L444.80,235.60 L445.05,235.60 L445.30,235.60 L445.55,235.60 L445.80,235.60 L446.05,235.61 L446.30,235.61 L446.55,235.61 L446.80,235.61 L447.05,235.61 L447.30,235.61 L447.55,235.62 L447.80,235.62 L448.05,235.62 L448.30,235.62 L448.55,235.62 L448.80,235.63 L449.05,235.63 L449.30,235.63 L449.55,235.63 L449.80,235.63 L450.05,235.63 L450.30,235.64 L450.55,235.64 L450.80,235.64 L451.05,235.64 L451.30,235.64 L451.55,235.64 L451.80,235.65 L452.05,235.65 L452.30,235.65 L452.55,235.65 L452.80,235.65 L453.05,235.65 L453.30,235.65 L453.55,235.66 L453.80,235.66 L454.05,235.66 L454.30,235.66 L454.55,235.66 L454.80,235.66 L455.05,235.66 L455.30,235.67 L455.55,235.67 L455.80,235.67 L456.05,235.67 L456.30,235.67 L456.55,235.67 L456.80,235.67 L457.05,235.67 L457.30,235.68 L457.55,235.68 L457.80,235.68 L458.05,235.68 L458.30,235.68 L458.55,235.68 L458.80,235.68 L459.05,235.68 L459.30,235.69 L459.55,235.69 L459.80,235.69 L460.05,235.69 L460.30,235.69 L460.55,235.69 L460.80,235.69 L461.05,235.69 L461.30,235.69 L461.55,235.70 L461.80,235.70 L462.05,235.70 L462.30,235.70 L462.55,235.70 L462.80,235.70 L463.05,235.70 L463.30,235.70 L463.55,235.70 L463.80,235.70 L464.05,235.71 L464.30,235.71 L464.55,235.71 L464.80,235.71 L465.05,235.71 L465.30,235.71 L465.55,235.71 L465.80,235.71 L466.05,235.71 L466.30,235.71 L466.55,235.71 L466.80,235.72 L467.05,235.72 L467.30,235.72 L467.55,235.72 L467.80,235.72 L468.05,235.72 L468.30,235.72 L468.55,235.72 L468.80,235.72 L469.05,235.72 L469.30,235.72 L469.55,235.72 L469.80,235.72 L470.05,235.73 L470.30,235.73 L470.55,235.73 L470.80,235.73 L471.05,235.73 L471.30,235.73 L471.55,235.73 L471.80,235.73 L472.05,235.73 L472.30,235.73 L472.55,235.73" fill="none" stroke="#8b0a8b" stroke-width="2.2" stroke-linejoin="round" stroke-linecap="butt"/>
<path d="M223.60,265.70 L223.85,265.72 L224.10,265.74 L224.35,265.75 L224.60,265.77 L224.85,265.79 L225.10,265.80 L225.35,265.81 L225.60,265.83 L225.85,265.84 L226.10,265.85 L226.35,265.86 L226.60,265.87 L226.85,265.88 L227.10,265.88 L227.35,265.89 L227.60,265.90 L227.85,265.91 L228.10,265.91 L228.35,265.92 L228.60,265.92 L228.85,265.93 L229.10,265.93 L229.35,265.94 L229.60,265.94 L229.85,265.94 L230.10,265.95 L230.35,265.95 L230.60,265.95 L230.85,265.96 L231.10,265.96 L231.35,265.96 L231.60,265.96 L231.85,265.97 L232.10,265.97 L232.35,265.97 L232.60,265.97 L232.85,265.97 L233.10,265.97 L233.35,265.97 L233.60,265.97 L233.85,265.97 L234.10,265.95 L234.35,265.92 L234.60,265.87 L234.85,265.78 L235.10,265.63 L235.35,265.39 L235.60,265.05 L235.85,264.57 L236.10,263.97 L236.35,263.25 L236.60,262.47 L236.85,261.68 L237.10,260.99 L237.35,260.47 L237.60,260.21 L237.85,260.21 L238.10,260.35 L238.35,260.60 L238.60,260.95 L238.85,261.38 L239.10,261.86 L239.35,262.37 L239.60,262.88 L239.85,263.38 L240.10,263.85 L240.35,264.27 L240.60,264.64 L240.85,264.95 L241.10,265.21 L241.35,265.41 L241.60,265.57 L241.85,265.70 L242.10,265.79 L242.35,265.85 L242.60,265.90 L242.85,265.93 L243.10,265.95 L243.35,265.97 L243.60,265.98 L243.85,265.98 L244.10,265.99 L244.35,265.99 L244.60,265.99 L244.85,265.99 L245.10,265.99 L245.35,265.99 L245.60,265.99 L245.85,265.99 L246.10,265.99 L246.35,265.99 L246.60,265.99 L246.85,265.99 L247.10,265.99 L247.35,265.99 L247.60,265.99 L247.85,265.99 L248.10,265.99 L248.35,265.99 L248.60,265.99 L248.85,265.99 L249.10,265.99 L249.35,265.99 L249.60,265.99 L249.85,265.99 L250.10,265.99 L250.35,265.99 L250.60,265.99 L250.85,265.99 L251.10,265.99 L251.35,265.99 L251.60,265.99 L251.85,265.99 L252.10,265.99 L252.35,265.99 L252.60,265.99 L252.85,265.99 L253.10,265.99 L253.35,265.99 L253.60,265.99 L253.85,265.99 L254.10,265.99 L254.35,265.99 L254.60,265.99 L254.85,265.99 L255.10,265.99 L255.35,265.99 L255.60,265.99 L255.85,265.99 L256.10,265.99 L256.35,265.99 L256.60,265.99 L256.85,265.99 L257.10,265.99 L257.35,265.99 L257.60,265.99 L257.85,265.99 L258.10,265.99 L258.35,265.99 L258.60,265.99 L258.85,265.99 L259.10,265.99 L259.35,265.99 L259.60,265.99 L259.85,265.98 L260.10,265.98 L260.35,265.98 L260.60,265.98 L260.85,265.98 L261.10,265.98 L261.35,265.98 L261.60,265.98 L261.85,265.98 L262.10,265.98 L262.35,265.98 L262.60,265.98 L262.85,265.98 L263.10,265.98 L263.35,265.98 L263.60,265.98 L263.85,265.98 L264.10,265.98 L264.35,265.98 L264.60,265.98 L264.85,265.98 L265.10,265.98 L265.35,265.98 L265.60,265.98 L265.85,265.98 L266.10,265.98 L266.35,265.98 L266.60,265.98 L266.85,265.98 L267.10,265.98 L267.35,265.98 L267.60,265.98 L267.85,265.98 L268.10,265.98 L268.35,265.98 L268.60,265.98 L268.85,265.98 L269.10,265.98 L269.35,265.98 L269.60,265.98 L269.85,265.98 L270.10,265.97 L270.35,265.97 L270.60,265.97 L270.85,265.97 L271.10,265.97 L271.35,265.97 L271.60,265.97 L271.85,265.97 L272.10,265.97 L272.35,265.97 L272.60,265.97 L272.85,265.97 L273.10,265.97 L273.35,265.97 L273.60,265.97 L273.85,265.97 L274.10,265.97 L274.35,265.97 L274.60,265.97 L274.85,265.97 L275.10,265.97 L275.35,265.97 L275.60,265.97 L275.85,265.97 L276.10,265.97 L276.35,265.96 L276.60,265.96 L276.85,265.96 L277.10,265.96 L277.35,265.96 L277.60,265.96 L277.85,265.96 L278.10,265.96 L278.35,265.96 L278.60,265.96 L278.85,265.96 L279.10,265.96 L279.35,265.96 L279.60,265.96 L279.85,265.96 L280.10,265.96 L280.35,265.96 L280.60,265.95 L280.85,265.95 L281.10,265.95 L281.35,265.95 L281.60,265.95 L281.85,265.95 L282.10,265.95 L282.35,265.95 L282.60,265.95 L282.85,265.95 L283.10,265.95 L283.35,265.95 L283.60,265.95 L283.85,265.95 L284.10,265.94 L284.35,265.94 L284.60,265.94 L284.85,265.94 L285.10,265.94 L285.35,265.94 L285.60,265.94 L285.85,265.94 L286.10,265.94 L286.35,265.94 L286.60,265.94 L286.85,265.93 L287.10,265.93 L287.35,265.93 L287.60,265.93 L287.85,265.93 L288.10,265.93 L288.35,265.93 L288.60,265.93 L288.85,265.93 L289.10,265.92 L289.35,265.92 L289.60,265.92 L289.85,265.92 L290.10,265.92 L290.35,265.92 L290.60,265.92 L290.85,265.92 L291.10,265.91 L291.35,265.91 L291.60,265.91 L291.85,265.91 L292.10,265.91 L292.35,265.91 L292.60,265.91 L292.85,265.90 L293.10,265.90 L293.35,265.90 L293.60,265.90 L293.85,265.90 L294.10,265.90 L294.35,265.89 L294.60,265.89 L294.85,265.89 L295.10,265.89 L295.35,265.89 L295.60,265.89 L295.85,265.88 L296.10,265.88 L296.35,265.88 L296.60,265.88 L296.85,265.88 L297.10,265.87 L297.35,265.87 L297.60,265.87 L297.85,265.87 L298.10,265.87 L298.35,265.86 L298.60,265.86 L298.85,265.86 L299.10,265.86 L299.35,265.85 L299.60,265.85 L299.85,265.85 L300.10,265.85 L300.35,265.84 L300.60,265.84 L300.85,265.84 L301.10,265.84 L301.35,265.83 L301.60,265.83 L301.85,265.83 L302.10,265.82 L302.35,265.82 L302.60,265.82 L302.85,265.82 L303.10,265.81 L303.35,265.81 L303.60,265.81 L303.85,265.80 L304.10,265.80 L304.35,265.80 L304.60,265.79 L304.85,265.79 L305.10,265.79 L305.35,265.78 L305.60,265.78 L305.85,265.77 L306.10,265.77 L306.35,265.77 L306.60,265.76 L306.85,265.76 L307.10,265.75 L307.35,265.75 L307.60,265.74 L307.85,265.74 L308.10,265.74 L308.35,265.73 L308.60,265.73 L308.85,265.72 L309.10,265.72 L309.35,265.71 L309.60,265.71 L309.85,265.70 L310.10,265.70 L310.35,265.69 L310.60,265.69 L310.85,265.68 L311.10,265.67 L311.35,265.67 L311.60,265.66 L311.85,265.66 L312.10,265.65 L312.35,265.64 L312.60,265.64 L312.85,265.63 L313.10,265.63 L313.35,265.62 L313.60,265.61 L313.85,265.60 L314.10,265.60 L314.35,265.59 L314.60,265.58 L314.85,265.58 L315.10,265.57 L315.35,265.56 L315.60,265.55 L315.85,265.54 L316.10,265.54 L316.35,265.53 L316.60,265.52 L316.85,265.51 L317.10,265.50 L317.35,265.49 L317.60,265.48 L317.85,265.47 L318.10,265.46 L318.35,265.45 L318.60,265.44 L318.85,265.43 L319.10,265.42 L319.35,265.41 L319.60,265.40 L319.85,265.39 L320.10,265.38 L320.35,265.36 L320.60,265.35 L320.85,265.34 L321.10,265.33 L321.35,265.31 L321.60,265.30 L321.85,265.29 L322.10,265.27 L322.35,265.26 L322.60,265.24 L322.85,265.23 L323.10,265.21 L323.35,265.20 L323.60,265.18 L323.85,265.17 L324.10,265.15 L324.35,265.13 L324.60,265.11 L324.85,265.10 L325.10,265.08 L325.35,265.06 L325.60,265.04 L325.85,265.02 L326.10,265.00 L326.35,264.98 L326.60,264.96 L326.85,264.93 L327.10,264.91 L327.35,264.89 L327.60,264.86 L327.85,264.84 L328.10,264.81 L328.35,264.78 L328.60,264.76 L328.85,264.73 L329.10,264.70 L329.35,264.67 L329.60,264.64 L329.85,264.60 L330.10,264.57 L330.35,264.53 L330.60,264.50 L330.85,264.46 L331.10,264.42 L331.35,264.38 L331.60,264.34 L331.85,264.29 L332.10,264.24 L332.35,264.19 L332.60,264.14 L332.85,264.09 L333.10,264.03 L333.35,263.97 L333.60,263.90 L333.85,263.83 L334.10,263.76 L334.35,263.69 L334.60,263.60 L334.85,263.52 L335.10,263.42 L335.35,263.32 L335.60,263.21 L335.85,263.10 L336.10,262.97 L336.35,262.83 L336.60,262.68 L336.85,262.51 L337.10,262.32 L337.35,262.09 L337.60,261.80 L337.85,261.42 L338.10,260.88 L338.35,260.10 L338.60,258.93 L338.85,257.19 L339.10,254.69 L339.35,251.20 L339.60,246.55 L339.85,240.67 L340.10,233.66 L340.35,225.85 L340.60,217.79 L340.85,210.25 L341.10,204.02 L341.35,199.88 L341.60,198.35 L341.85,200.98 L342.10,204.95 L342.35,209.88 L342.60,215.24 L342.85,220.52 L343.10,225.30 L343.35,229.36 L343.60,232.62 L343.85,235.16 L344.10,237.11 L344.35,238.62 L344.60,239.82 L344.85,240.83 L345.10,241.71 L345.35,242.51 L345.60,243.26 L345.85,243.97 L346.10,244.66 L346.35,245.33 L346.60,245.99 L346.85,246.65 L347.10,247.31 L347.35,247.96 L347.60,248.62 L347.85,249.28 L348.10,249.94 L348.35,250.60 L348.60,251.26 L348.85,251.92 L349.10,252.57 L349.35,253.21 L349.60,253.84 L349.85,254.45 L350.10,255.05 L350.35,255.63 L350.60,256.18 L350.85,256.71 L351.10,257.21 L351.35,257.69 L351.60,258.13 L351.85,258.55 L352.10,258.94 L352.35,259.31 L352.60,259.65 L352.85,259.96 L353.10,260.25 L353.35,260.52 L353.60,260.77 L353.85,260.99 L354.10,261.18 L354.35,261.30 L354.60,261.34 L354.85,261.20 L355.10,260.79 L355.35,259.95 L355.60,258.49 L355.85,256.21 L356.10,253.01 L356.35,248.89 L356.60,244.08 L356.85,239.04 L357.10,234.41 L357.35,230.91 L357.60,229.14 L357.85,229.93 L358.10,232.30 L358.35,235.49 L358.60,239.15 L358.85,242.90 L359.10,246.40 L359.35,249.43 L359.60,251.90 L359.85,253.81 L360.10,255.26 L360.35,256.35 L360.60,257.19 L360.85,257.86 L361.10,258.41 L361.35,258.90 L361.60,259.33 L361.85,259.73 L362.10,260.10 L362.35,260.44 L362.60,260.76 L362.85,261.05 L363.10,261.32 L363.35,261.57 L363.60,261.79 L363.85,261.97 L364.10,262.12 L364.35,262.21 L364.60,262.23 L364.85,262.17 L365.10,262.01 L365.35,261.74 L365.60,261.37 L365.85,260.90 L366.10,260.37 L366.35,259.84 L366.60,259.36 L366.85,259.00 L367.10,258.82 L367.35,258.84 L367.60,258.98 L367.85,259.21 L368.10,259.51 L368.35,259.87 L368.60,260.29 L368.85,260.73 L369.10,261.20 L369.35,261.67 L369.60,262.12 L369.85,262.56 L370.10,262.96 L370.35,263.32 L370.60,263.65 L370.85,263.93 L371.10,264.17 L371.35,264.37 L371.60,264.54 L371.85,264.67 L372.10,264.78 L372.35,264.87 L372.60,264.94 L372.85,265.00 L373.10,265.05 L373.35,265.08 L373.60,265.12 L373.85,265.14 L374.10,265.17 L374.35,265.19 L374.60,265.21 L374.85,265.23 L375.10,265.24 L375.35,265.26 L375.60,265.27 L375.85,265.29 L376.10,265.30 L376.35,265.31 L376.60,265.33 L376.85,265.34 L377.10,265.35 L377.35,265.36 L377.60,265.37 L377.85,265.38 L378.10,265.39 L378.35,265.40 L378.60,265.41 L378.85,265.42 L379.10,265.43 L379.35,265.43 L379.60,265.44 L379.85,265.45 L380.10,265.46 L380.35,265.46 L380.60,265.47 L380.85,265.48 L381.10,265.49 L381.35,265.49 L381.60,265.50 L381.85,265.50 L382.10,265.51 L382.35,265.52 L382.60,265.52 L382.85,265.53 L383.10,265.53 L383.35,265.54 L383.60,265.55 L383.85,265.55 L384.10,265.56 L384.35,265.56 L384.60,265.57 L384.85,265.57 L385.10,265.58 L385.35,265.58 L385.60,265.59 L385.85,265.59 L386.10,265.59 L386.35,265.60 L386.60,265.60 L386.85,265.61 L387.10,265.61 L387.35,265.62 L387.60,265.62 L387.85,265.62 L388.10,265.63 L388.35,265.63 L388.60,265.64 L388.85,265.64 L389.10,265.64 L389.35,265.65 L389.60,265.65 L389.85,265.65 L390.10,265.66 L390.35,265.66 L390.60,265.67 L390.85,265.67 L391.10,265.67 L391.35,265.68 L391.60,265.68 L391.85,265.68 L392.10,265.69 L392.35,265.69 L392.60,265.69 L392.85,265.70 L393.10,265.70 L393.35,265.70 L393.60,265.70 L393.85,265.71 L394.10,265.71 L394.35,265.71 L394.60,265.72 L394.85,265.72 L395.10,265.72 L395.35,265.72 L395.60,265.73 L395.85,265.73 L396.10,265.73 L396.35,265.74 L396.60,265.74 L396.85,265.74 L397.10,265.74 L397.35,265.75 L397.60,265.75 L397.85,265.75 L398.10,265.75 L398.35,265.76 L398.60,265.76 L398.85,265.76 L399.10,265.76 L399.35,265.77 L399.60,265.77 L399.85,265.77 L400.10,265.77 L400.35,265.78 L400.60,265.78 L400.85,265.78 L401.10,265.78 L401.35,265.78 L401.60,265.79 L401.85,265.79 L402.10,265.79 L402.35,265.79 L402.60,265.79 L402.85,265.80 L403.10,265.80 L403.35,265.80 L403.60,265.80 L403.85,265.80 L404.10,265.81 L404.35,265.81 L404.60,265.81 L404.85,265.81 L405.10,265.81 L405.35,265.82 L405.60,265.82 L405.85,265.82 L406.10,265.82 L406.35,265.82 L406.60,265.83 L406.85,265.83 L407.10,265.83 L407.35,265.83 L407.60,265.83 L407.85,265.83 L408.10,265.84 L408.35,265.84 L408.60,265.84 L408.85,265.84 L409.10,265.84 L409.35,265.84 L409.60,265.85 L409.85,265.85 L410.10,265.85 L410.35,265.85 L410.60,265.85 L410.85,265.85 L411.10,265.85 L411.35,265.86 L411.60,265.86 L411.85,265.86 L412.10,265.86 L412.35,265.86 L412.60,265.86 L412.85,265.86 L413.10,265.87 L413.35,265.87 L413.60,265.87 L413.85,265.87 L414.10,265.87 L414.35,265.87 L414.60,265.87 L414.85,265.87 L415.10,265.88 L415.35,265.88 L415.60,265.88 L415.85,265.88 L416.10,265.88 L416.35,265.88 L416.60,265.88 L416.85,265.88 L417.10,265.89 L417.35,265.89 L417.60,265.89 L417.85,265.89 L418.10,265.89 L418.35,265.89 L418.60,265.89 L418.85,265.89 L419.10,265.89 L419.35,265.90 L419.60,265.90 L419.85,265.90 L420.10,265.90 L420.35,265.90 L420.60,265.90 L420.85,265.90 L421.10,265.90 L421.35,265.90 L421.60,265.90 L421.85,265.91 L422.10,265.91 L422.35,265.91 L422.60,265.91 L422.85,265.91 L423.10,265.91 L423.35,265.91 L423.60,265.91 L423.85,265.91 L424.10,265.91 L424.35,265.91 L424.60,265.91 L424.85,265.92 L425.10,265.92 L425.35,265.92 L425.60,265.92 L425.85,265.92 L426.10,265.92 L426.35,265.92 L426.60,265.92 L426.85,265.92 L427.10,265.92 L427.35,265.92 L427.60,265.92 L427.85,265.93 L428.10,265.93 L428.35,265.93 L428.60,265.93 L428.85,265.93 L429.10,265.93 L429.35,265.93 L429.60,265.93 L429.85,265.93 L430.10,265.93 L430.35,265.93 L430.60,265.93 L430.85,265.93 L431.10,265.93 L431.35,265.94 L431.60,265.94 L431.85,265.94 L432.10,265.94 L432.35,265.94 L432.60,265.94 L432.85,265.94 L433.10,265.94 L433.35,265.94 L433.60,265.94 L433.85,265.94 L434.10,265.94 L434.35,265.94 L434.60,265.94 L434.85,265.94 L435.10,265.94 L435.35,265.94 L435.60,265.95 L435.85,265.95 L436.10,265.95 L436.35,265.95 L436.60,265.95 L436.85,265.95 L437.10,265.95 L437.35,265.95 L437.60,265.95 L437.85,265.95 L438.10,265.95 L438.35,265.95 L438.60,265.95 L438.85,265.95" fill="none" stroke="#838310" stroke-width="2.2" stroke-linejoin="round" stroke-linecap="butt"/>
<path d="M186.70,298.90 L186.95,298.94 L187.20,298.98 L187.45,299.01 L187.70,299.05 L187.95,299.08 L188.20,299.11 L188.45,299.13 L188.70,299.16 L188.95,299.18 L189.20,299.20 L189.45,299.22 L189.70,299.24 L189.95,299.26 L190.20,299.28 L190.45,299.29 L190.70,299.30 L190.95,299.32 L191.20,299.33 L191.45,299.34 L191.70,299.35 L191.95,299.36 L192.20,299.37 L192.45,299.38 L192.70,299.39 L192.95,299.39 L193.20,299.40 L193.45,299.41 L193.70,299.41 L193.95,299.42 L194.20,299.42 L194.45,299.43 L194.70,299.43 L194.95,299.44 L195.20,299.44 L195.45,299.45 L195.70,299.45 L195.95,299.45 L196.20,299.46 L196.45,299.46 L196.70,299.46 L196.95,299.46 L197.20,299.47 L197.45,299.47 L197.70,299.47 L197.95,299.47 L198.20,299.47 L198.45,299.47 L198.70,299.47 L198.95,299.48 L199.20,299.47 L199.45,299.47 L199.70,299.46 L199.95,299.45 L200.20,299.41 L200.45,299.35 L200.70,299.24 L200.95,299.06 L201.20,298.78 L201.45,298.38 L201.70,297.83 L201.95,297.15 L202.20,296.35 L202.45,295.49 L202.70,294.65 L202.95,293.93 L203.20,293.42 L203.45,293.20 L203.70,293.23 L203.95,293.38 L204.20,293.65 L204.45,294.01 L204.70,294.45 L204.95,294.94 L205.20,295.46 L205.45,295.99 L205.70,296.51 L205.95,297.00 L206.20,297.45 L206.45,297.85 L206.70,298.19 L206.95,298.49 L207.20,298.73 L207.45,298.92 L207.70,299.08 L207.95,299.20 L208.20,299.28 L208.45,299.35 L208.70,299.39 L208.95,299.43 L209.20,299.45 L209.45,299.47 L209.70,299.48 L209.95,299.48 L210.20,299.49 L210.45,299.49 L210.70,299.49 L210.95,299.49 L211.20,299.49 L211.45,299.49 L211.70,299.49 L211.95,299.49 L212.20,299.49 L212.45,299.49 L212.70,299.49 L212.95,299.49 L213.20,299.49 L213.45,299.49 L213.70,299.49 L213.95,299.49 L214.20,299.49 L214.45,299.49 L214.70,299.49 L214.95,299.49 L215.20,299.49 L215.45,299.49 L215.70,299.49 L215.95,299.49 L216.20,299.49 L216.45,299.49 L216.70,299.49 L216.95,299.49 L217.20,299.49 L217.45,299.49 L217.70,299.49 L217.95,299.49 L218.20,299.49 L218.45,299.49 L218.70,299.49 L218.95,299.49 L219.20,299.49 L219.45,299.49 L219.70,299.49 L219.95,299.49 L220.20,299.49 L220.45,299.49 L220.70,299.49 L220.95,299.49 L221.20,299.49 L221.45,299.49 L221.70,299.49 L221.95,299.49 L222.20,299.49 L222.45,299.49 L222.70,299.49 L222.95,299.49 L223.20,299.49 L223.45,299.49 L223.70,299.49 L223.95,299.49 L224.20,299.49 L224.45,299.49 L224.70,299.49 L224.95,299.49 L225.20,299.49 L225.45,299.49 L225.70,299.49 L225.95,299.49 L226.20,299.49 L226.45,299.49 L226.70,299.49 L226.95,299.49 L227.20,299.49 L227.45,299.48 L227.70,299.48 L227.95,299.48 L228.20,299.48 L228.45,299.48 L228.70,299.48 L228.95,299.48 L229.20,299.48 L229.45,299.48 L229.70,299.48 L229.95,299.48 L230.20,299.48 L230.45,299.48 L230.70,299.48 L230.95,299.48 L231.20,299.48 L231.45,299.48 L231.70,299.48 L231.95,299.48 L232.20,299.48 L232.45,299.48 L232.70,299.48 L232.95,299.48 L233.20,299.48 L233.45,299.48 L233.70,299.48 L233.95,299.48 L234.20,299.48 L234.45,299.48 L234.70,299.48 L234.95,299.48 L235.20,299.48 L235.45,299.48 L235.70,299.48 L235.95,299.48 L236.20,299.48 L236.45,299.48 L236.70,299.48 L236.95,299.48 L237.20,299.48 L237.45,299.47 L237.70,299.47 L237.95,299.47 L238.20,299.47 L238.45,299.47 L238.70,299.47 L238.95,299.47 L239.20,299.47 L239.45,299.47 L239.70,299.47 L239.95,299.47 L240.20,299.47 L240.45,299.47 L240.70,299.47 L240.95,299.47 L241.20,299.47 L241.45,299.47 L241.70,299.47 L241.95,299.47 L242.20,299.47 L242.45,299.47 L242.70,299.47 L242.95,299.47 L243.20,299.47 L243.45,299.46 L243.70,299.46 L243.95,299.46 L244.20,299.46 L244.45,299.46 L244.70,299.46 L244.95,299.46 L245.20,299.46 L245.45,299.46 L245.70,299.46 L245.95,299.46 L246.20,299.46 L246.45,299.46 L246.70,299.46 L246.95,299.46 L247.20,299.46 L247.45,299.46 L247.70,299.46 L247.95,299.45 L248.20,299.45 L248.45,299.45 L248.70,299.45 L248.95,299.45 L249.20,299.45 L249.45,299.45 L249.70,299.45 L249.95,299.45 L250.20,299.45 L250.45,299.45 L250.70,299.45 L250.95,299.45 L251.20,299.44 L251.45,299.44 L251.70,299.44 L251.95,299.44 L252.20,299.44 L252.45,299.44 L252.70,299.44 L252.95,299.44 L253.20,299.44 L253.45,299.44 L253.70,299.44 L253.95,299.43 L254.20,299.43 L254.45,299.43 L254.70,299.43 L254.95,299.43 L255.20,299.43 L255.45,299.43 L255.70,299.43 L255.95,299.43 L256.20,299.42 L256.45,299.42 L256.70,299.42 L256.95,299.42 L257.20,299.42 L257.45,299.42 L257.70,299.42 L257.95,299.42 L258.20,299.41 L258.45,299.41 L258.70,299.41 L258.95,299.41 L259.20,299.41 L259.45,299.41 L259.70,299.41 L259.95,299.40 L260.20,299.40 L260.45,299.40 L260.70,299.40 L260.95,299.40 L261.20,299.40 L261.45,299.39 L261.70,299.39 L261.95,299.39 L262.20,299.39 L262.45,299.39 L262.70,299.39 L262.95,299.38 L263.20,299.38 L263.45,299.38 L263.70,299.38 L263.95,299.38 L264.20,299.37 L264.45,299.37 L264.70,299.37 L264.95,299.37 L265.20,299.36 L265.45,299.36 L265.70,299.36 L265.95,299.36 L266.20,299.36 L266.45,299.35 L266.70,299.35 L266.95,299.35 L267.20,299.35 L267.45,299.34 L267.70,299.34 L267.95,299.34 L268.20,299.33 L268.45,299.33 L268.70,299.33 L268.95,299.33 L269.20,299.32 L269.45,299.32 L269.70,299.32 L269.95,299.31 L270.20,299.31 L270.45,299.31 L270.70,299.30 L270.95,299.30 L271.20,299.30 L271.45,299.29 L271.70,299.29 L271.95,299.29 L272.20,299.28 L272.45,299.28 L272.70,299.28 L272.95,299.27 L273.20,299.27 L273.45,299.26 L273.70,299.26 L273.95,299.25 L274.20,299.25 L274.45,299.25 L274.70,299.24 L274.95,299.24 L275.20,299.23 L275.45,299.23 L275.70,299.22 L275.95,299.22 L276.20,299.21 L276.45,299.21 L276.70,299.20 L276.95,299.20 L277.20,299.19 L277.45,299.19 L277.70,299.18 L277.95,299.18 L278.20,299.17 L278.45,299.16 L278.70,299.16 L278.95,299.15 L279.20,299.15 L279.45,299.14 L279.70,299.13 L279.95,299.13 L280.20,299.12 L280.45,299.11 L280.70,299.11 L280.95,299.10 L281.20,299.09 L281.45,299.08 L281.70,299.08 L281.95,299.07 L282.20,299.06 L282.45,299.05 L282.70,299.04 L282.95,299.04 L283.20,299.03 L283.45,299.02 L283.70,299.01 L283.95,299.00 L284.20,298.99 L284.45,298.98 L284.70,298.97 L284.95,298.96 L285.20,298.95 L285.45,298.94 L285.70,298.93 L285.95,298.92 L286.20,298.91 L286.45,298.90 L286.70,298.89 L286.95,298.87 L287.20,298.86 L287.45,298.85 L287.70,298.84 L287.95,298.82 L288.20,298.81 L288.45,298.80 L288.70,298.78 L288.95,298.77 L289.20,298.75 L289.45,298.74 L289.70,298.72 L289.95,298.71 L290.20,298.69 L290.45,298.68 L290.70,298.66 L290.95,298.64 L291.20,298.62 L291.45,298.61 L291.70,298.59 L291.95,298.57 L292.20,298.55 L292.45,298.53 L292.70,298.51 L292.95,298.49 L293.20,298.46 L293.45,298.44 L293.70,298.42 L293.95,298.39 L294.20,298.37 L294.45,298.34 L294.70,298.31 L294.95,298.29 L295.20,298.26 L295.45,298.23 L295.70,298.20 L295.95,298.16 L296.20,298.13 L296.45,298.10 L296.70,298.06 L296.95,298.02 L297.20,297.98 L297.45,297.94 L297.70,297.90 L297.95,297.85 L298.20,297.80 L298.45,297.75 L298.70,297.70 L298.95,297.65 L299.20,297.59 L299.45,297.52 L299.70,297.46 L299.95,297.39 L300.20,297.31 L300.45,297.23 L300.70,297.14 L300.95,297.05 L301.20,296.95 L301.45,296.84 L301.70,296.73 L301.95,296.60 L302.20,296.45 L302.45,296.29 L302.70,296.11 L302.95,295.89 L303.20,295.60 L303.45,295.20 L303.70,294.64 L303.95,293.81 L304.20,292.57 L304.45,290.74 L304.70,288.14 L304.95,284.57 L305.20,279.90 L305.45,274.14 L305.70,267.44 L305.95,260.20 L306.20,252.99 L306.45,246.54 L306.70,241.57 L306.95,238.71 L307.20,238.95 L307.45,241.83 L307.70,245.80 L307.95,250.46 L308.20,255.31 L308.45,259.92 L308.70,263.98 L308.95,267.33 L309.20,269.97 L309.45,272.00 L309.70,273.55 L309.95,274.75 L310.20,275.71 L310.45,276.53 L310.70,277.25 L310.95,277.92 L311.20,278.55 L311.45,279.16 L311.70,279.75 L311.95,280.34 L312.20,280.93 L312.45,281.53 L312.70,282.13 L312.95,282.74 L313.20,283.37 L313.45,284.00 L313.70,284.64 L313.95,285.29 L314.20,285.94 L314.45,286.59 L314.70,287.24 L314.95,287.89 L315.20,288.53 L315.45,289.15 L315.70,289.75 L315.95,290.34 L316.20,290.90 L316.45,291.43 L316.70,291.94 L316.95,292.42 L317.20,292.88 L317.45,293.30 L317.70,293.69 L317.95,294.06 L318.20,294.38 L318.45,294.66 L318.70,294.86 L318.95,294.93 L319.20,294.79 L319.45,294.30 L319.70,293.28 L319.95,291.52 L320.20,288.82 L320.45,285.05 L320.70,280.29 L320.95,274.83 L321.20,269.24 L321.45,264.26 L321.70,260.71 L321.95,259.19 L322.20,260.67 L322.45,263.54 L322.70,267.27 L322.95,271.44 L323.20,275.63 L323.45,279.47 L323.70,282.75 L323.95,285.40 L324.20,287.44 L324.45,288.99 L324.70,290.15 L324.95,291.06 L325.20,291.79 L325.45,292.40 L325.70,292.94 L325.95,293.42 L326.20,293.87 L326.45,294.28 L326.70,294.67 L326.95,295.03 L327.20,295.36 L327.45,295.67 L327.70,295.96 L327.95,296.23 L328.20,296.49 L328.45,296.72 L328.70,296.94 L328.95,297.14 L329.20,297.32 L329.45,297.48 L329.70,297.61 L329.95,297.69 L330.20,297.73 L330.45,297.70 L330.70,297.59 L330.95,297.39 L331.20,297.08 L331.45,296.67 L331.70,296.18 L331.95,295.64 L332.20,295.12 L332.45,294.66 L332.70,294.32 L332.95,294.16 L333.20,294.20 L333.45,294.34 L333.70,294.56 L333.95,294.85 L334.20,295.20 L334.45,295.59 L334.70,296.01 L334.95,296.45 L335.20,296.89 L335.45,297.32 L335.70,297.72 L335.95,298.10 L336.20,298.43 L336.45,298.73 L336.70,298.98 L336.95,299.20 L337.20,299.38 L337.45,299.53 L337.70,299.65 L337.95,299.75 L338.20,299.82 L338.45,299.89 L338.70,299.94 L338.95,299.97 L339.20,300.01 L339.45,300.03 L339.70,300.06 L339.95,300.08 L340.20,300.09 L340.45,300.11 L340.70,300.12 L340.95,300.14 L341.20,300.15 L341.45,300.16 L341.70,300.17 L341.95,300.19 L342.20,300.20 L342.45,300.21 L342.70,300.22 L342.95,300.23 L343.20,300.24 L343.45,300.24 L343.70,300.25 L343.95,300.26 L344.20,300.27 L344.45,300.28 L344.70,300.28 L344.95,300.29 L345.20,300.30 L345.45,300.31 L345.70,300.31 L345.95,300.32 L346.20,300.32 L346.45,300.33 L346.70,300.34 L346.95,300.34 L347.20,300.35 L347.45,300.35 L347.70,300.36 L347.95,300.36 L348.20,300.37 L348.45,300.38 L348.70,300.38 L348.95,300.39 L349.20,300.39 L349.45,300.39 L349.70,300.40 L349.95,300.40 L350.20,300.41 L350.45,300.41 L350.70,300.42 L350.95,300.42 L351.20,300.43 L351.45,300.43 L351.70,300.43 L351.95,300.44 L352.20,300.44 L352.45,300.45 L352.70,300.45 L352.95,300.45 L353.20,300.46 L353.45,300.46 L353.70,300.46 L353.95,300.47 L354.20,300.47 L354.45,300.48 L354.70,300.48 L354.95,300.48 L355.20,300.49 L355.45,300.49 L355.70,300.49 L355.95,300.50 L356.20,300.50 L356.45,300.50 L356.70,300.50 L356.95,300.51 L357.20,300.51 L357.45,300.51 L357.70,300.52 L357.95,300.52 L358.20,300.52 L358.45,300.53 L358.70,300.53 L358.95,300.53 L359.20,300.53 L359.45,300.54 L359.70,300.54 L359.95,300.54 L360.20,300.54 L360.45,300.55 L360.70,300.55 L360.95,300.55 L361.20,300.55 L361.45,300.56 L361.70,300.56 L361.95,300.56 L362.20,300.56 L362.45,300.57 L362.70,300.57 L362.95,300.57 L363.20,300.57 L363.45,300.58 L363.70,300.58 L363.95,300.58 L364.20,300.58 L364.45,300.58 L364.70,300.59 L364.95,300.59 L365.20,300.59 L365.45,300.59 L365.70,300.60 L365.95,300.60 L366.20,300.60 L366.45,300.60 L366.70,300.60 L366.95,300.61 L367.20,300.61 L367.45,300.61 L367.70,300.61 L367.95,300.61 L368.20,300.61 L368.45,300.62 L368.70,300.62 L368.95,300.62 L369.20,300.62 L369.45,300.62 L369.70,300.63 L369.95,300.63 L370.20,300.63 L370.45,300.63 L370.70,300.63 L370.95,300.63 L371.20,300.64 L371.45,300.64 L371.70,300.64 L371.95,300.64 L372.20,300.64 L372.45,300.64 L372.70,300.65 L372.95,300.65 L373.20,300.65 L373.45,300.65 L373.70,300.65 L373.95,300.65 L374.20,300.65 L374.45,300.66 L374.70,300.66 L374.95,300.66 L375.20,300.66 L375.45,300.66 L375.70,300.66 L375.95,300.66 L376.20,300.67 L376.45,300.67 L376.70,300.67 L376.95,300.67 L377.20,300.67 L377.45,300.67 L377.70,300.67 L377.95,300.67 L378.20,300.68 L378.45,300.68 L378.70,300.68 L378.95,300.68 L379.20,300.68 L379.45,300.68 L379.70,300.68 L379.95,300.68 L380.20,300.69 L380.45,300.69 L380.70,300.69 L380.95,300.69 L381.20,300.69 L381.45,300.69 L381.70,300.69 L381.95,300.69 L382.20,300.69 L382.45,300.70 L382.70,300.70 L382.95,300.70 L383.20,300.70 L383.45,300.70 L383.70,300.70 L383.95,300.70 L384.20,300.70 L384.45,300.70 L384.70,300.70 L384.95,300.71 L385.20,300.71 L385.45,300.71 L385.70,300.71 L385.95,300.71 L386.20,300.71 L386.45,300.71 L386.70,300.71 L386.95,300.71 L387.20,300.71 L387.45,300.71 L387.70,300.72 L387.95,300.72 L388.20,300.72 L388.45,300.72 L388.70,300.72 L388.95,300.72 L389.20,300.72 L389.45,300.72 L389.70,300.72 L389.95,300.72 L390.20,300.72 L390.45,300.72 L390.70,300.72 L390.95,300.73 L391.20,300.73 L391.45,300.73 L391.70,300.73 L391.95,300.73 L392.20,300.73 L392.45,300.73 L392.70,300.73 L392.95,300.73 L393.20,300.73 L393.45,300.73 L393.70,300.73 L393.95,300.73 L394.20,300.73 L394.45,300.74 L394.70,300.74 L394.95,300.74 L395.20,300.74 L395.45,300.74 L395.70,300.74 L395.95,300.74 L396.20,300.74 L396.45,300.74 L396.70,300.74 L396.95,300.74 L397.20,300.74 L397.45,300.74 L397.70,300.74 L397.95,300.74 L398.20,300.74 L398.45,300.74 L398.70,300.75 L398.95,300.75 L399.20,300.75" fill="none" stroke="#ff1cf0" stroke-width="2.2" stroke-linejoin="round" stroke-linecap="butt"/>
<path d="M150.10,331.90 L150.35,332.00 L150.60,332.10 L150.85,332.19 L151.10,332.27 L151.35,332.35 L151.60,332.42 L151.85,332.49 L152.10,332.55 L152.35,332.61 L152.60,332.66 L152.85,332.71 L153.10,332.76 L153.35,332.80 L153.60,332.85 L153.85,332.88 L154.10,332.92 L154.35,332.95 L154.60,332.98 L154.85,333.01 L155.10,333.04 L155.35,333.06 L155.60,333.09 L155.85,333.11 L156.10,333.13 L156.35,333.15 L156.60,333.16 L156.85,333.18 L157.10,333.19 L157.35,333.21 L157.60,333.22 L157.85,333.23 L158.10,333.24 L158.35,333.25 L158.60,333.26 L158.85,333.27 L159.10,333.28 L159.35,333.29 L159.60,333.30 L159.85,333.30 L160.10,333.31 L160.35,333.32 L160.60,333.32 L160.85,333.33 L161.10,333.33 L161.35,333.34 L161.60,333.34 L161.85,333.34 L162.10,333.35 L162.35,333.35 L162.60,333.35 L162.85,333.35 L163.10,333.35 L163.35,333.35 L163.60,333.33 L163.85,333.29 L164.10,333.23 L164.35,333.11 L164.60,332.92 L164.85,332.62 L165.10,332.18 L165.35,331.58 L165.60,330.81 L165.85,329.89 L166.10,328.89 L166.35,327.89 L166.60,327.01 L166.85,326.35 L167.10,326.01 L167.35,326.01 L167.60,326.17 L167.85,326.45 L168.10,326.86 L168.35,327.35 L168.60,327.92 L168.85,328.53 L169.10,329.15 L169.35,329.76 L169.60,330.35 L169.85,330.89 L170.10,331.37 L170.35,331.79 L170.60,332.15 L170.85,332.44 L171.10,332.68 L171.35,332.87 L171.60,333.02 L171.85,333.13 L172.10,333.21 L172.35,333.27 L172.60,333.31 L172.85,333.34 L173.10,333.36 L173.35,333.37 L173.60,333.38 L173.85,333.38 L174.10,333.39 L174.35,333.39 L174.60,333.39 L174.85,333.39 L175.10,333.39 L175.35,333.39 L175.60,333.39 L175.85,333.39 L176.10,333.39 L176.35,333.39 L176.60,333.39 L176.85,333.39 L177.10,333.39 L177.35,333.39 L177.60,333.39 L177.85,333.39 L178.10,333.39 L178.35,333.39 L178.60,333.39 L178.85,333.39 L179.10,333.39 L179.35,333.39 L179.60,333.39 L179.85,333.39 L180.10,333.39 L180.35,333.39 L180.60,333.39 L180.85,333.39 L181.10,333.39 L181.35,333.39 L181.60,333.39 L181.85,333.39 L182.10,333.39 L182.35,333.39 L182.60,333.39 L182.85,333.39 L183.10,333.39 L183.35,333.39 L183.60,333.39 L183.85,333.39 L184.10,333.39 L184.35,333.39 L184.60,333.39 L184.85,333.39 L185.10,333.39 L185.35,333.39 L185.60,333.39 L185.85,333.39 L186.10,333.39 L186.35,333.39 L186.60,333.39 L186.85,333.39 L187.10,333.39 L187.35,333.39 L187.60,333.39 L187.85,333.39 L188.10,333.39 L188.35,333.39 L188.60,333.39 L188.85,333.39 L189.10,333.39 L189.35,333.39 L189.60,333.39 L189.85,333.39 L190.10,333.39 L190.35,333.39 L190.60,333.39 L190.85,333.39 L191.10,333.39 L191.35,333.39 L191.60,333.39 L191.85,333.39 L192.10,333.39 L192.35,333.39 L192.60,333.39 L192.85,333.39 L193.10,333.39 L193.35,333.39 L193.60,333.39 L193.85,333.39 L194.10,333.39 L194.35,333.39 L194.60,333.39 L194.85,333.39 L195.10,333.39 L195.35,333.39 L195.60,333.39 L195.85,333.39 L196.10,333.39 L196.35,333.39 L196.60,333.39 L196.85,333.39 L197.10,333.39 L197.35,333.39 L197.60,333.39 L197.85,333.38 L198.10,333.38 L198.35,333.38 L198.60,333.38 L198.85,333.38 L199.10,333.38 L199.35,333.38 L199.60,333.38 L199.85,333.38 L200.10,333.38 L200.35,333.38 L200.60,333.38 L200.85,333.38 L201.10,333.38 L201.35,333.38 L201.60,333.38 L201.85,333.38 L202.10,333.38 L202.35,333.38 L202.60,333.38 L202.85,333.38 L203.10,333.38 L203.35,333.38 L203.60,333.38 L203.85,333.38 L204.10,333.38 L204.35,333.38 L204.60,333.38 L204.85,333.38 L205.10,333.38 L205.35,333.38 L205.60,333.38 L205.85,333.38 L206.10,333.38 L206.35,333.38 L206.60,333.38 L206.85,333.38 L207.10,333.38 L207.35,333.37 L207.60,333.37 L207.85,333.37 L208.10,333.37 L208.35,333.37 L208.60,333.37 L208.85,333.37 L209.10,333.37 L209.35,333.37 L209.60,333.37 L209.85,333.37 L210.10,333.37 L210.35,333.37 L210.60,333.37 L210.85,333.37 L211.10,333.37 L211.35,333.37 L211.60,333.37 L211.85,333.37 L212.10,333.37 L212.35,333.37 L212.60,333.37 L212.85,333.37 L213.10,333.37 L213.35,333.36 L213.60,333.36 L213.85,333.36 L214.10,333.36 L214.35,333.36 L214.60,333.36 L214.85,333.36 L215.10,333.36 L215.35,333.36 L215.60,333.36 L215.85,333.36 L216.10,333.36 L216.35,333.36 L216.60,333.36 L216.85,333.36 L217.10,333.36 L217.35,333.35 L217.60,333.35 L217.85,333.35 L218.10,333.35 L218.35,333.35 L218.60,333.35 L218.85,333.35 L219.10,333.35 L219.35,333.35 L219.60,333.35 L219.85,333.35 L220.10,333.35 L220.35,333.35 L220.60,333.34 L220.85,333.34 L221.10,333.34 L221.35,333.34 L221.60,333.34 L221.85,333.34 L222.10,333.34 L222.35,333.34 L222.60,333.34 L222.85,333.34 L223.10,333.34 L223.35,333.33 L223.60,333.33 L223.85,333.33 L224.10,333.33 L224.35,333.33 L224.60,333.33 L224.85,333.33 L225.10,333.33 L225.35,333.32 L225.60,333.32 L225.85,333.32 L226.10,333.32 L226.35,333.32 L226.60,333.32 L226.85,333.32 L227.10,333.32 L227.35,333.31 L227.60,333.31 L227.85,333.31 L228.10,333.31 L228.35,333.31 L228.60,333.31 L228.85,333.31 L229.10,333.30 L229.35,333.30 L229.60,333.30 L229.85,333.30 L230.10,333.30 L230.35,333.30 L230.60,333.29 L230.85,333.29 L231.10,333.29 L231.35,333.29 L231.60,333.29 L231.85,333.28 L232.10,333.28 L232.35,333.28 L232.60,333.28 L232.85,333.28 L233.10,333.27 L233.35,333.27 L233.60,333.27 L233.85,333.27 L234.10,333.27 L234.35,333.26 L234.60,333.26 L234.85,333.26 L235.10,333.26 L235.35,333.25 L235.60,333.25 L235.85,333.25 L236.10,333.25 L236.35,333.24 L236.60,333.24 L236.85,333.24 L237.10,333.24 L237.35,333.23 L237.60,333.23 L237.85,333.23 L238.10,333.22 L238.35,333.22 L238.60,333.22 L238.85,333.21 L239.10,333.21 L239.35,333.21 L239.60,333.20 L239.85,333.20 L240.10,333.20 L240.35,333.19 L240.60,333.19 L240.85,333.19 L241.10,333.18 L241.35,333.18 L241.60,333.18 L241.85,333.17 L242.10,333.17 L242.35,333.16 L242.60,333.16 L242.85,333.15 L243.10,333.15 L243.35,333.15 L243.60,333.14 L243.85,333.14 L244.10,333.13 L244.35,333.13 L244.60,333.12 L244.85,333.12 L245.10,333.11 L245.35,333.11 L245.60,333.10 L245.85,333.10 L246.10,333.09 L246.35,333.08 L246.60,333.08 L246.85,333.07 L247.10,333.07 L247.35,333.06 L247.60,333.05 L247.85,333.05 L248.10,333.04 L248.35,333.04 L248.60,333.03 L248.85,333.02 L249.10,333.01 L249.35,333.01 L249.60,333.00 L249.85,332.99 L250.10,332.98 L250.35,332.98 L250.60,332.97 L250.85,332.96 L251.10,332.95 L251.35,332.94 L251.60,332.94 L251.85,332.93 L252.10,332.92 L252.35,332.91 L252.60,332.90 L252.85,332.89 L253.10,332.88 L253.35,332.87 L253.60,332.86 L253.85,332.85 L254.10,332.84 L254.35,332.82 L254.60,332.81 L254.85,332.80 L255.10,332.79 L255.35,332.78 L255.60,332.76 L255.85,332.75 L256.10,332.74 L256.35,332.72 L256.60,332.71 L256.85,332.69 L257.10,332.68 L257.35,332.66 L257.60,332.65 L257.85,332.63 L258.10,332.62 L258.35,332.60 L258.60,332.58 L258.85,332.56 L259.10,332.54 L259.35,332.52 L259.60,332.50 L259.85,332.48 L260.10,332.46 L260.35,332.44 L260.60,332.41 L260.85,332.39 L261.10,332.36 L261.35,332.34 L261.60,332.31 L261.85,332.28 L262.10,332.25 L262.35,332.22 L262.60,332.19 L262.85,332.15 L263.10,332.12 L263.35,332.08 L263.60,332.04 L263.85,332.00 L264.10,331.95 L264.35,331.91 L264.60,331.86 L264.85,331.80 L265.10,331.75 L265.35,331.69 L265.60,331.62 L265.85,331.55 L266.10,331.48 L266.35,331.40 L266.60,331.31 L266.85,331.21 L267.10,331.11 L267.35,330.99 L267.60,330.86 L267.85,330.70 L268.10,330.50 L268.35,330.23 L268.60,329.86 L268.85,329.31 L269.10,328.50 L269.35,327.30 L269.60,325.56 L269.85,323.14 L270.10,319.91 L270.35,315.83 L270.60,310.96 L270.85,305.54 L271.10,299.94 L271.35,294.68 L271.60,290.33 L271.85,287.41 L272.10,286.28 L272.35,288.01 L272.60,290.65 L272.85,293.94 L273.10,297.51 L273.35,301.01 L273.60,304.16 L273.85,306.80 L274.10,308.87 L274.35,310.44 L274.60,311.58 L274.85,312.42 L275.10,313.05 L275.35,313.54 L275.60,313.95 L275.85,314.32 L276.10,314.66 L276.35,314.99 L276.60,315.33 L276.85,315.69 L277.10,316.06 L277.35,316.46 L277.60,316.88 L277.85,317.34 L278.10,317.83 L278.35,318.35 L278.60,318.91 L278.85,319.49 L279.10,320.09 L279.35,320.71 L279.60,321.35 L279.85,321.98 L280.10,322.62 L280.35,323.26 L280.60,323.88 L280.85,324.49 L281.10,325.07 L281.35,325.63 L281.60,326.16 L281.85,326.66 L282.10,327.13 L282.35,327.56 L282.60,327.96 L282.85,328.33 L283.10,328.65 L283.35,328.94 L283.60,329.16 L283.85,329.27 L284.10,329.22 L284.35,328.87 L284.60,328.04 L284.85,326.50 L285.10,323.98 L285.35,320.24 L285.60,315.16 L285.85,308.88 L286.10,301.84 L286.35,294.81 L286.60,288.77 L286.85,284.70 L287.10,283.31 L287.35,285.74 L287.60,289.54 L287.85,294.32 L288.10,299.54 L288.35,304.69 L288.60,309.34 L288.85,313.25 L289.10,316.37 L289.35,318.76 L289.60,320.55 L289.85,321.89 L290.10,322.94 L290.35,323.78 L290.60,324.49 L290.85,325.12 L291.10,325.68 L291.35,326.20 L291.60,326.68 L291.85,327.13 L292.10,327.54 L292.35,327.91 L292.60,328.26 L292.85,328.56 L293.10,328.81 L293.35,329.00 L293.60,329.11 L293.85,329.11 L294.10,329.00 L294.35,328.73 L294.60,328.31 L294.85,327.74 L295.10,327.05 L295.35,326.29 L295.60,325.53 L295.85,324.87 L296.10,324.40 L296.35,324.18 L296.60,324.26 L296.85,324.48 L297.10,324.82 L297.35,325.26 L297.60,325.79 L297.85,326.38 L298.10,327.02 L298.35,327.68 L298.60,328.34 L298.85,328.98 L299.10,329.58 L299.35,330.14 L299.60,330.64 L299.85,331.08 L300.10,331.46 L300.35,331.78 L300.60,332.05 L300.85,332.27 L301.10,332.45 L301.35,332.59 L301.60,332.70 L301.85,332.78 L302.10,332.83 L302.35,332.87 L302.60,332.88 L302.85,332.87 L303.10,332.84 L303.35,332.79 L303.60,332.72 L303.85,332.63 L304.10,332.52 L304.35,332.41 L304.60,332.28 L304.85,332.16 L305.10,332.05 L305.35,331.96 L305.60,331.89 L305.85,331.87 L306.10,331.87 L306.35,331.90 L306.60,331.93 L306.85,331.98 L307.10,332.04 L307.35,332.11 L307.60,332.19 L307.85,332.28 L308.10,332.37 L308.35,332.46 L308.60,332.55 L308.85,332.64 L309.10,332.73 L309.35,332.82 L309.60,332.90 L309.85,332.97 L310.10,333.04 L310.35,333.10 L310.60,333.16 L310.85,333.21 L311.10,333.25 L311.35,333.29 L311.60,333.33 L311.85,333.35 L312.10,333.38 L312.35,333.40 L312.60,333.42 L312.85,333.43 L313.10,333.44 L313.35,333.45 L313.60,333.46 L313.85,333.47 L314.10,333.48 L314.35,333.48 L314.60,333.49 L314.85,333.49 L315.10,333.50 L315.35,333.50 L315.60,333.50 L315.85,333.51 L316.10,333.51 L316.35,333.52 L316.60,333.52 L316.85,333.52 L317.10,333.52 L317.35,333.53 L317.60,333.53 L317.85,333.53 L318.10,333.54 L318.35,333.54 L318.60,333.54 L318.85,333.55 L319.10,333.55 L319.35,333.55 L319.60,333.55 L319.85,333.56 L320.10,333.56 L320.35,333.56 L320.60,333.56 L320.85,333.57 L321.10,333.57 L321.35,333.57 L321.60,333.57 L321.85,333.58 L322.10,333.58 L322.35,333.58 L322.60,333.58 L322.85,333.59 L323.10,333.59 L323.35,333.59 L323.60,333.59 L323.85,333.59 L324.10,333.60 L324.35,333.60 L324.60,333.60 L324.85,333.60 L325.10,333.60 L325.35,333.61 L325.60,333.61 L325.85,333.61 L326.10,333.61 L326.35,333.61 L326.60,333.62 L326.85,333.62 L327.10,333.62 L327.35,333.62 L327.60,333.62 L327.85,333.62 L328.10,333.63 L328.35,333.63 L328.60,333.63 L328.85,333.63 L329.10,333.63 L329.35,333.64 L329.60,333.64 L329.85,333.64 L330.10,333.64 L330.35,333.64 L330.60,333.64 L330.85,333.64 L331.10,333.65 L331.35,333.65 L331.60,333.65 L331.85,333.65 L332.10,333.65 L332.35,333.65 L332.60,333.66 L332.85,333.66 L333.10,333.66 L333.35,333.66 L333.60,333.66 L333.85,333.66 L334.10,333.66 L334.35,333.67 L334.60,333.67 L334.85,333.67 L335.10,333.67 L335.35,333.67 L335.60,333.67 L335.85,333.67 L336.10,333.67 L336.35,333.68 L336.60,333.68 L336.85,333.68 L337.10,333.68 L337.35,333.68 L337.60,333.68 L337.85,333.68 L338.10,333.68 L338.35,333.69 L338.60,333.69 L338.85,333.69 L339.10,333.69 L339.35,333.69 L339.60,333.69 L339.85,333.69 L340.10,333.69 L340.35,333.69 L340.60,333.70 L340.85,333.70 L341.10,333.70 L341.35,333.70 L341.60,333.70 L341.85,333.70 L342.10,333.70 L342.35,333.70 L342.60,333.70 L342.85,333.70 L343.10,333.71 L343.35,333.71 L343.60,333.71 L343.85,333.71 L344.10,333.71 L344.35,333.71 L344.60,333.71 L344.85,333.71 L345.10,333.71 L345.35,333.71 L345.60,333.71 L345.85,333.71 L346.10,333.72 L346.35,333.72 L346.60,333.72 L346.85,333.72 L347.10,333.72 L347.35,333.72 L347.60,333.72 L347.85,333.72 L348.10,333.72 L348.35,333.72 L348.60,333.72 L348.85,333.72 L349.10,333.73 L349.35,333.73 L349.60,333.73 L349.85,333.73 L350.10,333.73 L350.35,333.73 L350.60,333.73 L350.85,333.73 L351.10,333.73 L351.35,333.73 L351.60,333.73 L351.85,333.73 L352.10,333.73 L352.35,333.73 L352.60,333.74 L352.85,333.74 L353.10,333.74 L353.35,333.74 L353.60,333.74 L353.85,333.74 L354.10,333.74 L354.35,333.74 L354.60,333.74 L354.85,333.74 L355.10,333.74 L355.35,333.74 L355.60,333.74 L355.85,333.74 L356.10,333.74 L356.35,333.74 L356.60,333.74 L356.85,333.75 L357.10,333.75 L357.35,333.75 L357.60,333.75 L357.85,333.75 L358.10,333.75 L358.35,333.75 L358.60,333.75 L358.85,333.75 L359.10,333.75 L359.35,333.75 L359.60,333.75 L359.85,333.75 L360.10,333.75 L360.35,333.75 L360.60,333.75 L360.85,333.75 L361.10,333.75 L361.35,333.75 L361.60,333.75 L361.85,333.76 L362.10,333.76 L362.35,333.76 L362.60,333.76 L362.85,333.76 L363.10,333.76 L363.35,333.76" fill="none" stroke="#0d8a1a" stroke-width="2.2" stroke-linejoin="round" stroke-linecap="butt"/>
<path d="M115.60,363.60 L115.85,363.80 L116.10,364.00 L116.35,364.18 L116.60,364.34 L116.85,364.50 L117.10,364.64 L117.35,364.78 L117.60,364.90 L117.85,365.02 L118.10,365.13 L118.35,365.23 L118.60,365.32 L118.85,365.41 L119.10,365.49 L119.35,365.57 L119.60,365.64 L119.85,365.71 L120.10,365.77 L120.35,365.82 L120.60,365.88 L120.85,365.93 L121.10,365.97 L121.35,366.02 L121.60,366.06 L121.85,366.09 L122.10,366.13 L122.35,366.16 L122.60,366.19 L122.85,366.22 L123.10,366.24 L123.35,366.27 L123.60,366.29 L123.85,366.31 L124.10,366.33 L124.35,366.35 L124.60,366.37 L124.85,366.38 L125.10,366.40 L125.35,366.41 L125.60,366.42 L125.85,366.44 L126.10,366.45 L126.35,366.46 L126.60,366.47 L126.85,366.48 L127.10,366.48 L127.35,366.49 L127.60,366.50 L127.85,366.50 L128.10,366.50 L128.35,366.49 L128.60,366.47 L128.85,366.41 L129.10,366.31 L129.35,366.14 L129.60,365.86 L129.85,365.43 L130.10,364.83 L130.35,364.01 L130.60,363.00 L130.85,361.84 L131.10,360.61 L131.35,359.43 L131.60,358.45 L131.85,357.80 L132.10,357.57 L132.35,357.66 L132.60,357.91 L132.85,358.32 L133.10,358.86 L133.35,359.51 L133.60,360.22 L133.85,360.97 L134.10,361.73 L134.35,362.46 L134.60,363.15 L134.85,363.78 L135.10,364.34 L135.35,364.82 L135.60,365.23 L135.85,365.56 L136.10,365.82 L136.35,366.03 L136.60,366.19 L136.85,366.31 L137.10,366.40 L137.35,366.46 L137.60,366.51 L137.85,366.54 L138.10,366.56 L138.35,366.57 L138.60,366.58 L138.85,366.58 L139.10,366.59 L139.35,366.59 L139.60,366.59 L139.85,366.59 L140.10,366.59 L140.35,366.59 L140.60,366.59 L140.85,366.59 L141.10,366.59 L141.35,366.59 L141.60,366.59 L141.85,366.59 L142.10,366.59 L142.35,366.59 L142.60,366.59 L142.85,366.59 L143.10,366.59 L143.35,366.59 L143.60,366.59 L143.85,366.59 L144.10,366.59 L144.35,366.59 L144.60,366.59 L144.85,366.59 L145.10,366.59 L145.35,366.59 L145.60,366.59 L145.85,366.59 L146.10,366.59 L146.35,366.59 L146.60,366.59 L146.85,366.59 L147.10,366.59 L147.35,366.59 L147.60,366.59 L147.85,366.59 L148.10,366.59 L148.35,366.59 L148.60,366.59 L148.85,366.59 L149.10,366.59 L149.35,366.59 L149.60,366.59 L149.85,366.59 L150.10,366.59 L150.35,366.59 L150.60,366.59 L150.85,366.59 L151.10,366.59 L151.35,366.59 L151.60,366.59 L151.85,366.59 L152.10,366.59 L152.35,366.59 L152.60,366.59 L152.85,366.59 L153.10,366.59 L153.35,366.59 L153.60,366.59 L153.85,366.59 L154.10,366.59 L154.35,366.59 L154.60,366.59 L154.85,366.59 L155.10,366.59 L155.35,366.59 L155.60,366.59 L155.85,366.59 L156.10,366.59 L156.35,366.59 L156.60,366.59 L156.85,366.59 L157.10,366.59 L157.35,366.59 L157.60,366.59 L157.85,366.59 L158.10,366.59 L158.35,366.59 L158.60,366.59 L158.85,366.59 L159.10,366.59 L159.35,366.59 L159.60,366.59 L159.85,366.59 L160.10,366.59 L160.35,366.59 L160.60,366.59 L160.85,366.59 L161.10,366.59 L161.35,366.59 L161.60,366.59 L161.85,366.59 L162.10,366.59 L162.35,366.59 L162.60,366.59 L162.85,366.59 L163.10,366.59 L163.35,366.59 L163.60,366.59 L163.85,366.59 L164.10,366.58 L164.35,366.58 L164.60,366.58 L164.85,366.58 L165.10,366.58 L165.35,366.58 L165.60,366.58 L165.85,366.58 L166.10,366.58 L166.35,366.58 L166.60,366.58 L166.85,366.58 L167.10,366.58 L167.35,366.58 L167.60,366.58 L167.85,366.58 L168.10,366.58 L168.35,366.58 L168.60,366.58 L168.85,366.58 L169.10,366.58 L169.35,366.58 L169.60,366.58 L169.85,366.58 L170.10,366.58 L170.35,366.58 L170.60,366.58 L170.85,366.58 L171.10,366.58 L171.35,366.58 L171.60,366.58 L171.85,366.58 L172.10,366.58 L172.35,366.58 L172.60,366.58 L172.85,366.58 L173.10,366.58 L173.35,366.58 L173.60,366.57 L173.85,366.57 L174.10,366.57 L174.35,366.57 L174.60,366.57 L174.85,366.57 L175.10,366.57 L175.35,366.57 L175.60,366.57 L175.85,366.57 L176.10,366.57 L176.35,366.57 L176.60,366.57 L176.85,366.57 L177.10,366.57 L177.35,366.57 L177.60,366.57 L177.85,366.57 L178.10,366.57 L178.35,366.57 L178.60,366.57 L178.85,366.57 L179.10,366.57 L179.35,366.56 L179.60,366.56 L179.85,366.56 L180.10,366.56 L180.35,366.56 L180.60,366.56 L180.85,366.56 L181.10,366.56 L181.35,366.56 L181.60,366.56 L181.85,366.56 L182.10,366.56 L182.35,366.56 L182.60,366.56 L182.85,366.56 L183.10,366.56 L183.35,366.55 L183.60,366.55 L183.85,366.55 L184.10,366.55 L184.35,366.55 L184.60,366.55 L184.85,366.55 L185.10,366.55 L185.35,366.55 L185.60,366.55 L185.85,366.55 L186.10,366.55 L186.35,366.55 L186.60,366.54 L186.85,366.54 L187.10,366.54 L187.35,366.54 L187.60,366.54 L187.85,366.54 L188.10,366.54 L188.35,366.54 L188.60,366.54 L188.85,366.54 L189.10,366.53 L189.35,366.53 L189.60,366.53 L189.85,366.53 L190.10,366.53 L190.35,366.53 L190.60,366.53 L190.85,366.53 L191.10,366.53 L191.35,366.52 L191.60,366.52 L191.85,366.52 L192.10,366.52 L192.35,366.52 L192.60,366.52 L192.85,366.52 L193.10,366.52 L193.35,366.51 L193.60,366.51 L193.85,366.51 L194.10,366.51 L194.35,366.51 L194.60,366.51 L194.85,366.50 L195.10,366.50 L195.35,366.50 L195.60,366.50 L195.85,366.50 L196.10,366.50 L196.35,366.49 L196.60,366.49 L196.85,366.49 L197.10,366.49 L197.35,366.49 L197.60,366.49 L197.85,366.48 L198.10,366.48 L198.35,366.48 L198.60,366.48 L198.85,366.48 L199.10,366.47 L199.35,366.47 L199.60,366.47 L199.85,366.47 L200.10,366.46 L200.35,366.46 L200.60,366.46 L200.85,366.46 L201.10,366.46 L201.35,366.45 L201.60,366.45 L201.85,366.45 L202.10,366.44 L202.35,366.44 L202.60,366.44 L202.85,366.44 L203.10,366.43 L203.35,366.43 L203.60,366.43 L203.85,366.42 L204.10,366.42 L204.35,366.42 L204.60,366.42 L204.85,366.41 L205.10,366.41 L205.35,366.41 L205.60,366.40 L205.85,366.40 L206.10,366.40 L206.35,366.39 L206.60,366.39 L206.85,366.38 L207.10,366.38 L207.35,366.38 L207.60,366.37 L207.85,366.37 L208.10,366.36 L208.35,366.36 L208.60,366.36 L208.85,366.35 L209.10,366.35 L209.35,366.34 L209.60,366.34 L209.85,366.33 L210.10,366.33 L210.35,366.32 L210.60,366.32 L210.85,366.31 L211.10,366.31 L211.35,366.30 L211.60,366.30 L211.85,366.29 L212.10,366.29 L212.35,366.28 L212.60,366.27 L212.85,366.27 L213.10,366.26 L213.35,366.26 L213.60,366.25 L213.85,366.24 L214.10,366.24 L214.35,366.23 L214.60,366.22 L214.85,366.21 L215.10,366.21 L215.35,366.20 L215.60,366.19 L215.85,366.18 L216.10,366.18 L216.35,366.17 L216.60,366.16 L216.85,366.15 L217.10,366.14 L217.35,366.13 L217.60,366.12 L217.85,366.12 L218.10,366.11 L218.35,366.10 L218.60,366.09 L218.85,366.08 L219.10,366.07 L219.35,366.05 L219.60,366.04 L219.85,366.03 L220.10,366.02 L220.35,366.01 L220.60,366.00 L220.85,365.98 L221.10,365.97 L221.35,365.96 L221.60,365.94 L221.85,365.93 L222.10,365.92 L222.35,365.90 L222.60,365.89 L222.85,365.87 L223.10,365.85 L223.35,365.84 L223.60,365.82 L223.85,365.80 L224.10,365.78 L224.35,365.76 L224.60,365.74 L224.85,365.72 L225.10,365.70 L225.35,365.68 L225.60,365.66 L225.85,365.63 L226.10,365.61 L226.35,365.58 L226.60,365.56 L226.85,365.53 L227.10,365.50 L227.35,365.47 L227.60,365.44 L227.85,365.40 L228.10,365.37 L228.35,365.33 L228.60,365.29 L228.85,365.25 L229.10,365.20 L229.35,365.15 L229.60,365.10 L229.85,365.05 L230.10,364.99 L230.35,364.93 L230.60,364.86 L230.85,364.79 L231.10,364.71 L231.35,364.63 L231.60,364.53 L231.85,364.43 L232.10,364.31 L232.35,364.18 L232.60,364.01 L232.85,363.79 L233.10,363.50 L233.35,363.06 L233.60,362.43 L233.85,361.48 L234.10,360.10 L234.35,358.14 L234.60,355.48 L234.85,352.04 L235.10,347.84 L235.35,343.03 L235.60,337.90 L235.85,332.88 L236.10,328.49 L236.35,325.22 L236.60,323.49 L236.85,324.12 L237.10,326.22 L237.35,329.02 L237.60,332.23 L237.85,335.49 L238.10,338.52 L238.35,341.12 L238.60,343.21 L238.85,344.80 L239.10,345.98 L239.35,346.83 L239.60,347.45 L239.85,347.92 L240.10,348.30 L240.35,348.63 L240.60,348.93 L240.85,349.22 L241.10,349.51 L241.35,349.81 L241.60,350.13 L241.85,350.48 L242.10,350.85 L242.35,351.26 L242.60,351.69 L242.85,352.16 L243.10,352.67 L243.35,353.20 L243.60,353.75 L243.85,354.33 L244.10,354.92 L244.35,355.52 L244.60,356.13 L244.85,356.73 L245.10,357.32 L245.35,357.90 L245.60,358.46 L245.85,359.00 L246.10,359.51 L246.35,360.00 L246.60,360.45 L246.85,360.86 L247.10,361.25 L247.35,361.58 L247.60,361.86 L247.85,362.04 L248.10,362.06 L248.35,361.81 L248.60,361.12 L248.85,359.72 L249.10,357.32 L249.35,353.63 L249.60,348.44 L249.85,341.78 L250.10,334.01 L250.35,325.87 L250.60,318.38 L250.85,312.71 L251.10,309.82 L251.35,311.03 L251.60,314.76 L251.85,319.81 L252.10,325.62 L252.35,331.57 L252.60,337.13 L252.85,341.93 L253.10,345.83 L253.35,348.86 L253.60,351.13 L253.85,352.84 L254.10,354.14 L254.35,355.16 L254.60,356.02 L254.85,356.76 L255.10,357.42 L255.35,358.02 L255.60,358.57 L255.85,359.09 L256.10,359.57 L256.35,360.01 L256.60,360.42 L256.85,360.80 L257.10,361.14 L257.35,361.43 L257.60,361.68 L257.85,361.87 L258.10,361.97 L258.35,361.97 L258.60,361.84 L258.85,361.57 L259.10,361.13 L259.35,360.53 L259.60,359.82 L259.85,359.03 L260.10,358.25 L260.35,357.57 L260.60,357.08 L260.85,356.85 L261.10,356.92 L261.35,357.15 L261.60,357.49 L261.85,357.94 L262.10,358.48 L262.35,359.09 L262.60,359.74 L262.85,360.41 L263.10,361.08 L263.35,361.74 L263.60,362.36 L263.85,362.92 L264.10,363.44 L264.35,363.89 L264.60,364.28 L264.85,364.61 L265.10,364.88 L265.35,365.11 L265.60,365.29 L265.85,365.44 L266.10,365.55 L266.35,365.64 L266.60,365.71 L266.85,365.77 L267.10,365.81 L267.35,365.83 L267.60,365.84 L267.85,365.84 L268.10,365.83 L268.35,365.80 L268.60,365.74 L268.85,365.67 L269.10,365.58 L269.35,365.47 L269.60,365.34 L269.85,365.20 L270.10,365.05 L270.35,364.90 L270.60,364.77 L270.85,364.66 L271.10,364.58 L271.35,364.55 L271.60,364.55 L271.85,364.57 L272.10,364.61 L272.35,364.66 L272.60,364.73 L272.85,364.81 L273.10,364.89 L273.35,364.99 L273.60,365.09 L273.85,365.19 L274.10,365.29 L274.35,365.39 L274.60,365.49 L274.85,365.59 L275.10,365.68 L275.35,365.76 L275.60,365.84 L275.85,365.91 L276.10,365.97 L276.35,366.03 L276.60,366.08 L276.85,366.12 L277.10,366.15 L277.35,366.18 L277.60,366.21 L277.85,366.23 L278.10,366.25 L278.35,366.27 L278.60,366.28 L278.85,366.29 L279.10,366.30 L279.35,366.31 L279.60,366.31 L279.85,366.32 L280.10,366.32 L280.35,366.33 L280.60,366.33 L280.85,366.34 L281.10,366.34 L281.35,366.34 L281.60,366.35 L281.85,366.35 L282.10,366.35 L282.35,366.35 L282.60,366.36 L282.85,366.36 L283.10,366.36 L283.35,366.37 L283.60,366.37 L283.85,366.37 L284.10,366.37 L284.35,366.38 L284.60,366.38 L284.85,366.38 L285.10,366.38 L285.35,366.38 L285.60,366.39 L285.85,366.39 L286.10,366.39 L286.35,366.39 L286.60,366.40 L286.85,366.40 L287.10,366.40 L287.35,366.40 L287.60,366.40 L287.85,366.41 L288.10,366.41 L288.35,366.41 L288.60,366.41 L288.85,366.41 L289.10,366.42 L289.35,366.42 L289.60,366.42 L289.85,366.42 L290.10,366.42 L290.35,366.42 L290.60,366.43 L290.85,366.43 L291.10,366.43 L291.35,366.43 L291.60,366.43 L291.85,366.44 L292.10,366.44 L292.35,366.44 L292.60,366.44 L292.85,366.44 L293.10,366.44 L293.35,366.44 L293.60,366.45 L293.85,366.45 L294.10,366.45 L294.35,366.45 L294.60,366.45 L294.85,366.45 L295.10,366.46 L295.35,366.46 L295.60,366.46 L295.85,366.46 L296.10,366.46 L296.35,366.46 L296.60,366.46 L296.85,366.47 L297.10,366.47 L297.35,366.47 L297.60,366.47 L297.85,366.47 L298.10,366.47 L298.35,366.47 L298.60,366.47 L298.85,366.48 L299.10,366.48 L299.35,366.48 L299.60,366.48 L299.85,366.48 L300.10,366.48 L300.35,366.48 L300.60,366.48 L300.85,366.49 L301.10,366.49 L301.35,366.49 L301.60,366.49 L301.85,366.49 L302.10,366.49 L302.35,366.49 L302.60,366.49 L302.85,366.49 L303.10,366.50 L303.35,366.50 L303.60,366.50 L303.85,366.50 L304.10,366.50 L304.35,366.50 L304.60,366.50 L304.85,366.50 L305.10,366.50 L305.35,366.50 L305.60,366.51 L305.85,366.51 L306.10,366.51 L306.35,366.51 L306.60,366.51 L306.85,366.51 L307.10,366.51 L307.35,366.51 L307.60,366.51 L307.85,366.51 L308.10,366.51 L308.35,366.52 L308.60,366.52 L308.85,366.52 L309.10,366.52 L309.35,366.52 L309.60,366.52 L309.85,366.52 L310.10,366.52 L310.35,366.52 L310.60,366.52 L310.85,366.52 L311.10,366.52 L311.35,366.52 L311.60,366.53 L311.85,366.53 L312.10,366.53 L312.35,366.53 L312.60,366.53 L312.85,366.53 L313.10,366.53 L313.35,366.53 L313.60,366.53 L313.85,366.53 L314.10,366.53 L314.35,366.53 L314.60,366.53 L314.85,366.53 L315.10,366.54 L315.35,366.54 L315.60,366.54 L315.85,366.54 L316.10,366.54 L316.35,366.54 L316.60,366.54 L316.85,366.54 L317.10,366.54 L317.35,366.54 L317.60,366.54 L317.85,366.54 L318.10,366.54 L318.35,366.54 L318.60,366.54 L318.85,366.54 L319.10,366.54 L319.35,366.55 L319.60,366.55 L319.85,366.55 L320.10,366.55 L320.35,366.55 L320.60,366.55 L320.85,366.55 L321.10,366.55 L321.35,366.55 L321.60,366.55 L321.85,366.55 L322.10,366.55 L322.35,366.55 L322.60,366.55 L322.85,366.55 L323.10,366.55 L323.35,366.55 L323.60,366.55 L323.85,366.55 L324.10,366.55 L324.35,366.56 L324.60,366.56 L324.85,366.56 L325.10,366.56 L325.35,366.56 L325.60,366.56 L325.85,366.56 L326.10,366.56" fill="none" stroke="#ff0d0d" stroke-width="2.2" stroke-linejoin="round" stroke-linecap="butt"/>
<path d="M79.50,395.30 L79.75,395.57 L80.00,395.83 L80.25,396.07 L80.50,396.29 L80.75,396.50 L81.00,396.69 L81.25,396.87 L81.50,397.04 L81.75,397.19 L82.00,397.34 L82.25,397.47 L82.50,397.60 L82.75,397.72 L83.00,397.83 L83.25,397.93 L83.50,398.02 L83.75,398.11 L84.00,398.19 L84.25,398.27 L84.50,398.34 L84.75,398.40 L85.00,398.47 L85.25,398.52 L85.50,398.58 L85.75,398.63 L86.00,398.67 L86.25,398.72 L86.50,398.76 L86.75,398.79 L87.00,398.83 L87.25,398.86 L87.50,398.89 L87.75,398.92 L88.00,398.94 L88.25,398.97 L88.50,398.99 L88.75,399.01 L89.00,399.03 L89.25,399.05 L89.50,399.07 L89.75,399.08 L90.00,399.10 L90.25,399.11 L90.50,399.12 L90.75,399.14 L91.00,399.15 L91.25,399.16 L91.50,399.17 L91.75,399.18 L92.00,399.18 L92.25,399.19 L92.50,399.20 L92.75,399.21 L93.00,399.21 L93.25,399.21 L93.50,399.21 L93.75,399.21 L94.00,399.19 L94.25,399.14 L94.50,399.06 L94.75,398.91 L95.00,398.66 L95.25,398.27 L95.50,397.70 L95.75,396.92 L96.00,395.93 L96.25,394.74 L96.50,393.44 L96.75,392.15 L97.00,391.00 L97.25,390.14 L97.50,389.71 L97.75,389.71 L98.00,389.91 L98.25,390.28 L98.50,390.81 L98.75,391.45 L99.00,392.19 L99.25,392.97 L99.50,393.78 L99.75,394.58 L100.00,395.34 L100.25,396.04 L100.50,396.66 L100.75,397.21 L101.00,397.67 L101.25,398.06 L101.50,398.37 L101.75,398.62 L102.00,398.81 L102.25,398.95 L102.50,399.05 L102.75,399.13 L103.00,399.18 L103.25,399.22 L103.50,399.25 L103.75,399.26 L104.00,399.27 L104.25,399.28 L104.50,399.29 L104.75,399.29 L105.00,399.29 L105.25,399.29 L105.50,399.29 L105.75,399.29 L106.00,399.29 L106.25,399.29 L106.50,399.29 L106.75,399.29 L107.00,399.29 L107.25,399.29 L107.50,399.29 L107.75,399.29 L108.00,399.29 L108.25,399.29 L108.50,399.29 L108.75,399.29 L109.00,399.29 L109.25,399.29 L109.50,399.29 L109.75,399.29 L110.00,399.29 L110.25,399.29 L110.50,399.29 L110.75,399.29 L111.00,399.29 L111.25,399.29 L111.50,399.29 L111.75,399.29 L112.00,399.29 L112.25,399.29 L112.50,399.29 L112.75,399.29 L113.00,399.29 L113.25,399.29 L113.50,399.29 L113.75,399.29 L114.00,399.29 L114.25,399.29 L114.50,399.29 L114.75,399.29 L115.00,399.29 L115.25,399.29 L115.50,399.29 L115.75,399.29 L116.00,399.29 L116.25,399.29 L116.50,399.29 L116.75,399.29 L117.00,399.29 L117.25,399.29 L117.50,399.29 L117.75,399.29 L118.00,399.29 L118.25,399.29 L118.50,399.29 L118.75,399.29 L119.00,399.29 L119.25,399.29 L119.50,399.29 L119.75,399.29 L120.00,399.29 L120.25,399.29 L120.50,399.29 L120.75,399.29 L121.00,399.29 L121.25,399.29 L121.50,399.29 L121.75,399.29 L122.00,399.29 L122.25,399.29 L122.50,399.29 L122.75,399.29 L123.00,399.29 L123.25,399.29 L123.50,399.29 L123.75,399.29 L124.00,399.29 L124.25,399.29 L124.50,399.29 L124.75,399.29 L125.00,399.29 L125.25,399.29 L125.50,399.29 L125.75,399.29 L126.00,399.29 L126.25,399.29 L126.50,399.29 L126.75,399.29 L127.00,399.29 L127.25,399.29 L127.50,399.29 L127.75,399.29 L128.00,399.29 L128.25,399.29 L128.50,399.29 L128.75,399.29 L129.00,399.29 L129.25,399.29 L129.50,399.29 L129.75,399.29 L130.00,399.28 L130.25,399.28 L130.50,399.28 L130.75,399.28 L131.00,399.28 L131.25,399.28 L131.50,399.28 L131.75,399.28 L132.00,399.28 L132.25,399.28 L132.50,399.28 L132.75,399.28 L133.00,399.28 L133.25,399.28 L133.50,399.28 L133.75,399.28 L134.00,399.28 L134.25,399.28 L134.50,399.28 L134.75,399.28 L135.00,399.28 L135.25,399.28 L135.50,399.28 L135.75,399.28 L136.00,399.28 L136.25,399.28 L136.50,399.28 L136.75,399.28 L137.00,399.28 L137.25,399.28 L137.50,399.28 L137.75,399.28 L138.00,399.28 L138.25,399.28 L138.50,399.28 L138.75,399.28 L139.00,399.28 L139.25,399.27 L139.50,399.27 L139.75,399.27 L140.00,399.27 L140.25,399.27 L140.50,399.27 L140.75,399.27 L141.00,399.27 L141.25,399.27 L141.50,399.27 L141.75,399.27 L142.00,399.27 L142.25,399.27 L142.50,399.27 L142.75,399.27 L143.00,399.27 L143.25,399.27 L143.50,399.27 L143.75,399.27 L144.00,399.27 L144.25,399.27 L144.50,399.27 L144.75,399.27 L145.00,399.26 L145.25,399.26 L145.50,399.26 L145.75,399.26 L146.00,399.26 L146.25,399.26 L146.50,399.26 L146.75,399.26 L147.00,399.26 L147.25,399.26 L147.50,399.26 L147.75,399.26 L148.00,399.26 L148.25,399.26 L148.50,399.26 L148.75,399.26 L149.00,399.25 L149.25,399.25 L149.50,399.25 L149.75,399.25 L150.00,399.25 L150.25,399.25 L150.50,399.25 L150.75,399.25 L151.00,399.25 L151.25,399.25 L151.50,399.25 L151.75,399.25 L152.00,399.25 L152.25,399.24 L152.50,399.24 L152.75,399.24 L153.00,399.24 L153.25,399.24 L153.50,399.24 L153.75,399.24 L154.00,399.24 L154.25,399.24 L154.50,399.24 L154.75,399.23 L155.00,399.23 L155.25,399.23 L155.50,399.23 L155.75,399.23 L156.00,399.23 L156.25,399.23 L156.50,399.23 L156.75,399.23 L157.00,399.22 L157.25,399.22 L157.50,399.22 L157.75,399.22 L158.00,399.22 L158.25,399.22 L158.50,399.22 L158.75,399.22 L159.00,399.21 L159.25,399.21 L159.50,399.21 L159.75,399.21 L160.00,399.21 L160.25,399.21 L160.50,399.20 L160.75,399.20 L161.00,399.20 L161.25,399.20 L161.50,399.20 L161.75,399.20 L162.00,399.19 L162.25,399.19 L162.50,399.19 L162.75,399.19 L163.00,399.19 L163.25,399.19 L163.50,399.18 L163.75,399.18 L164.00,399.18 L164.25,399.18 L164.50,399.18 L164.75,399.17 L165.00,399.17 L165.25,399.17 L165.50,399.17 L165.75,399.16 L166.00,399.16 L166.25,399.16 L166.50,399.16 L166.75,399.15 L167.00,399.15 L167.25,399.15 L167.50,399.15 L167.75,399.14 L168.00,399.14 L168.25,399.14 L168.50,399.14 L168.75,399.13 L169.00,399.13 L169.25,399.13 L169.50,399.12 L169.75,399.12 L170.00,399.12 L170.25,399.11 L170.50,399.11 L170.75,399.11 L171.00,399.10 L171.25,399.10 L171.50,399.10 L171.75,399.09 L172.00,399.09 L172.25,399.09 L172.50,399.08 L172.75,399.08 L173.00,399.07 L173.25,399.07 L173.50,399.07 L173.75,399.06 L174.00,399.06 L174.25,399.05 L174.50,399.05 L174.75,399.04 L175.00,399.04 L175.25,399.04 L175.50,399.03 L175.75,399.03 L176.00,399.02 L176.25,399.02 L176.50,399.01 L176.75,399.00 L177.00,399.00 L177.25,398.99 L177.50,398.99 L177.75,398.98 L178.00,398.97 L178.25,398.95 L178.50,398.93 L178.75,398.90 L179.00,398.85 L179.25,398.78 L179.50,398.68 L179.75,398.54 L180.00,398.35 L180.25,398.12 L180.50,397.86 L180.75,397.57 L181.00,397.27 L181.25,397.00 L181.50,396.77 L181.75,396.62 L182.00,396.56 L182.25,396.58 L182.50,396.63 L182.75,396.73 L183.00,396.86 L183.25,397.01 L183.50,397.18 L183.75,397.37 L184.00,397.55 L184.25,397.73 L184.50,397.89 L184.75,398.04 L185.00,398.17 L185.25,398.28 L185.50,398.38 L185.75,398.45 L186.00,398.50 L186.25,398.54 L186.50,398.57 L186.75,398.59 L187.00,398.60 L187.25,398.60 L187.50,398.60 L187.75,398.59 L188.00,398.58 L188.25,398.57 L188.50,398.55 L188.75,398.54 L189.00,398.52 L189.25,398.50 L189.50,398.48 L189.75,398.46 L190.00,398.44 L190.25,398.42 L190.50,398.40 L190.75,398.38 L191.00,398.35 L191.25,398.33 L191.50,398.30 L191.75,398.28 L192.00,398.25 L192.25,398.22 L192.50,398.19 L192.75,398.15 L193.00,398.12 L193.25,398.08 L193.50,398.05 L193.75,398.01 L194.00,397.96 L194.25,397.92 L194.50,397.87 L194.75,397.82 L195.00,397.76 L195.25,397.70 L195.50,397.64 L195.75,397.57 L196.00,397.49 L196.25,397.41 L196.50,397.32 L196.75,397.23 L197.00,397.11 L197.25,396.98 L197.50,396.82 L197.75,396.61 L198.00,396.33 L198.25,395.92 L198.50,395.30 L198.75,394.40 L199.00,393.07 L199.25,391.19 L199.50,388.65 L199.75,385.35 L200.00,381.33 L200.25,376.72 L200.50,371.80 L200.75,366.99 L201.00,362.77 L201.25,359.62 L201.50,357.93 L201.75,358.50 L202.00,360.46 L202.25,363.09 L202.50,366.10 L202.75,369.15 L203.00,371.98 L203.25,374.39 L203.50,376.30 L203.75,377.74 L204.00,378.77 L204.25,379.49 L204.50,380.00 L204.75,380.35 L205.00,380.62 L205.25,380.85 L205.50,381.05 L205.75,381.25 L206.00,381.46 L206.25,381.70 L206.50,381.96 L206.75,382.26 L207.00,382.60 L207.25,382.98 L207.50,383.41 L207.75,383.88 L208.00,384.40 L208.25,384.96 L208.50,385.55 L208.75,386.17 L209.00,386.81 L209.25,387.47 L209.50,388.14 L209.75,388.81 L210.00,389.47 L210.25,390.11 L210.50,390.74 L210.75,391.34 L211.00,391.91 L211.25,392.45 L211.50,392.95 L211.75,393.42 L212.00,393.83 L212.25,394.20 L212.50,394.48 L212.75,394.64 L213.00,394.58 L213.25,394.17 L213.50,393.17 L213.75,391.31 L214.00,388.25 L214.25,383.70 L214.50,377.54 L214.75,369.91 L215.00,361.37 L215.25,352.84 L215.50,345.50 L215.75,340.54 L216.00,338.84 L216.25,341.77 L216.50,346.35 L216.75,352.12 L217.00,358.44 L217.25,364.65 L217.50,370.27 L217.75,375.00 L218.00,378.76 L218.25,381.63 L218.50,383.79 L218.75,385.40 L219.00,386.65 L219.25,387.65 L219.50,388.50 L219.75,389.25 L220.00,389.92 L220.25,390.54 L220.50,391.11 L220.75,391.64 L221.00,392.13 L221.25,392.58 L221.50,393.01 L221.75,393.40 L222.00,393.76 L222.25,394.09 L222.50,394.37 L222.75,394.61 L223.00,394.78 L223.25,394.88 L223.50,394.86 L223.75,394.71 L224.00,394.41 L224.25,393.94 L224.50,393.29 L224.75,392.50 L225.00,391.63 L225.25,390.74 L225.50,389.95 L225.75,389.34 L226.00,389.01 L226.25,389.01 L226.50,389.22 L226.75,389.55 L227.00,390.01 L227.25,390.57 L227.50,391.20 L227.75,391.89 L228.00,392.62 L228.25,393.34 L228.50,394.05 L228.75,394.73 L229.00,395.35 L229.25,395.91 L229.50,396.41 L229.75,396.84 L230.00,397.21 L230.25,397.52 L230.50,397.77 L230.75,397.97 L231.00,398.13 L231.25,398.26 L231.50,398.36 L231.75,398.44 L232.00,398.50 L232.25,398.54 L232.50,398.57 L232.75,398.58 L233.00,398.59 L233.25,398.58 L233.50,398.55 L233.75,398.51 L234.00,398.44 L234.25,398.36 L234.50,398.26 L234.75,398.14 L235.00,398.01 L235.25,397.87 L235.50,397.73 L235.75,397.60 L236.00,397.50 L236.25,397.42 L236.50,397.38 L236.75,397.37 L237.00,397.39 L237.25,397.42 L237.50,397.47 L237.75,397.53 L238.00,397.60 L238.25,397.68 L238.50,397.77 L238.75,397.86 L239.00,397.95 L239.25,398.05 L239.50,398.15 L239.75,398.24 L240.00,398.33 L240.25,398.42 L240.50,398.50 L240.75,398.57 L241.00,398.64 L241.25,398.70 L241.50,398.75 L241.75,398.80 L242.00,398.84 L242.25,398.87 L242.50,398.90 L242.75,398.93 L243.00,398.95 L243.25,398.97 L243.50,398.98 L243.75,399.00 L244.00,399.01 L244.25,399.01 L244.50,399.02 L244.75,399.03 L245.00,399.03 L245.25,399.04 L245.50,399.04 L245.75,399.05 L246.00,399.05 L246.25,399.05 L246.50,399.06 L246.75,399.06 L247.00,399.06 L247.25,399.07 L247.50,399.07 L247.75,399.07 L248.00,399.07 L248.25,399.08 L248.50,399.08 L248.75,399.08 L249.00,399.08 L249.25,399.09 L249.50,399.09 L249.75,399.09 L250.00,399.09 L250.25,399.09 L250.50,399.10 L250.75,399.10 L251.00,399.10 L251.25,399.10 L251.50,399.10 L251.75,399.11 L252.00,399.11 L252.25,399.11 L252.50,399.11 L252.75,399.11 L253.00,399.12 L253.25,399.12 L253.50,399.12 L253.75,399.12 L254.00,399.12 L254.25,399.13 L254.50,399.13 L254.75,399.13 L255.00,399.13 L255.25,399.13 L255.50,399.13 L255.75,399.14 L256.00,399.14 L256.25,399.14 L256.50,399.14 L256.75,399.14 L257.00,399.14 L257.25,399.15 L257.50,399.15 L257.75,399.15 L258.00,399.15 L258.25,399.15 L258.50,399.15 L258.75,399.15 L259.00,399.16 L259.25,399.16 L259.50,399.16 L259.75,399.16 L260.00,399.16 L260.25,399.16 L260.50,399.16 L260.75,399.17 L261.00,399.17 L261.25,399.17 L261.50,399.17 L261.75,399.17 L262.00,399.17 L262.25,399.17 L262.50,399.18 L262.75,399.18 L263.00,399.18 L263.25,399.18 L263.50,399.18 L263.75,399.18 L264.00,399.18 L264.25,399.18 L264.50,399.18 L264.75,399.19 L265.00,399.19 L265.25,399.19 L265.50,399.19 L265.75,399.19 L266.00,399.19 L266.25,399.19 L266.50,399.19 L266.75,399.19 L267.00,399.20 L267.25,399.20 L267.50,399.20 L267.75,399.20 L268.00,399.20 L268.25,399.20 L268.50,399.20 L268.75,399.20 L269.00,399.20 L269.25,399.20 L269.50,399.21 L269.75,399.21 L270.00,399.21 L270.25,399.21 L270.50,399.21 L270.75,399.21 L271.00,399.21 L271.25,399.21 L271.50,399.21 L271.75,399.21 L272.00,399.21 L272.25,399.22 L272.50,399.22 L272.75,399.22 L273.00,399.22 L273.25,399.22 L273.50,399.22 L273.75,399.22 L274.00,399.22 L274.25,399.22 L274.50,399.22 L274.75,399.22 L275.00,399.22 L275.25,399.23 L275.50,399.23 L275.75,399.23 L276.00,399.23 L276.25,399.23 L276.50,399.23 L276.75,399.23 L277.00,399.23 L277.25,399.23 L277.50,399.23 L277.75,399.23 L278.00,399.23 L278.25,399.23 L278.50,399.23 L278.75,399.23 L279.00,399.24 L279.25,399.24 L279.50,399.24 L279.75,399.24 L280.00,399.24 L280.25,399.24 L280.50,399.24 L280.75,399.24 L281.00,399.24 L281.25,399.24 L281.50,399.24 L281.75,399.24 L282.00,399.24 L282.25,399.24 L282.50,399.24 L282.75,399.24 L283.00,399.25 L283.25,399.25 L283.50,399.25 L283.75,399.25 L284.00,399.25 L284.25,399.25 L284.50,399.25 L284.75,399.25 L285.00,399.25 L285.25,399.25 L285.50,399.25 L285.75,399.25 L286.00,399.25 L286.25,399.25 L286.50,399.25 L286.75,399.25 L287.00,399.25 L287.25,399.25 L287.50,399.25 L287.75,399.25 L288.00,399.26 L288.25,399.26 L288.50,399.26" fill="none" stroke="#0a0a0a" stroke-width="2.2" stroke-linejoin="round" stroke-linecap="butt"/>
<text x="340.65" y="138.60" font-size="17.5" fill="#111" font-weight="normal" textLength="21.20" lengthAdjust="spacingAndGlyphs"  stroke="#111" stroke-width="0.25">0h</text>
<text x="307.65" y="170.50" font-size="17.5" fill="#111" font-weight="normal" textLength="21.60" lengthAdjust="spacingAndGlyphs"  stroke="#111" stroke-width="0.25">4h</text>
<text x="268.05" y="203.00" font-size="17.5" fill="#111" font-weight="normal" textLength="21.60" lengthAdjust="spacingAndGlyphs"  stroke="#111" stroke-width="0.25">8h</text>
<text x="226.85" y="233.50" font-size="17.5" fill="#111" font-weight="normal" textLength="30.20" lengthAdjust="spacingAndGlyphs"  stroke="#111" stroke-width="0.25">18h</text>
<text x="190.25" y="266.50" font-size="17.5" fill="#111" font-weight="normal" textLength="32.20" lengthAdjust="spacingAndGlyphs"  stroke="#111" stroke-width="0.25">24h</text>
<text x="153.35" y="300.30" font-size="17.5" fill="#111" font-weight="normal" textLength="31.60" lengthAdjust="spacingAndGlyphs"  stroke="#111" stroke-width="0.25">30h</text>
<text x="116.75" y="331.40" font-size="17.5" fill="#111" font-weight="normal" textLength="31.60" lengthAdjust="spacingAndGlyphs"  stroke="#111" stroke-width="0.25">44h</text>
<text x="80.75" y="365.00" font-size="17.5" fill="#111" font-weight="normal" textLength="31.30" lengthAdjust="spacingAndGlyphs"  stroke="#111" stroke-width="0.25">53h</text>
<text x="40.75" y="399.60" font-size="17.5" fill="#111" font-weight="normal" textLength="31.60" lengthAdjust="spacingAndGlyphs"  stroke="#111" stroke-width="0.25">65h</text>
<text x="581.35" y="139.80" font-size="17.5" fill="#111" font-weight="normal" textLength="41.70" lengthAdjust="spacingAndGlyphs"  stroke="#111" stroke-width="0.25">0.0%</text>
<text x="544.35" y="171.50" font-size="17.5" fill="#111" font-weight="normal" textLength="51.50" lengthAdjust="spacingAndGlyphs"  stroke="#111" stroke-width="0.25">14.5%</text>
<text x="508.65" y="202.70" font-size="17.5" fill="#111" font-weight="normal" textLength="52.20" lengthAdjust="spacingAndGlyphs"  stroke="#111" stroke-width="0.25">17.8%</text>
<text x="475.55" y="235.80" font-size="17.5" fill="#111" font-weight="normal" textLength="54.60" lengthAdjust="spacingAndGlyphs"  stroke="#111" stroke-width="0.25">29.5%</text>
<text x="441.65" y="265.80" font-size="17.5" fill="#111" font-weight="normal" textLength="53.70" lengthAdjust="spacingAndGlyphs"  stroke="#111" stroke-width="0.25">36.2%</text>
<text x="402.85" y="301.70" font-size="17.5" fill="#111" font-weight="normal" textLength="52.60" lengthAdjust="spacingAndGlyphs"  stroke="#111" stroke-width="0.25">42.5%</text>
<text x="365.15" y="333.50" font-size="17.5" fill="#111" font-weight="normal" textLength="52.40" lengthAdjust="spacingAndGlyphs"  stroke="#111" stroke-width="0.25">52.7%</text>
<text x="328.25" y="367.30" font-size="17.5" fill="#111" font-weight="normal" textLength="52.60" lengthAdjust="spacingAndGlyphs"  stroke="#111" stroke-width="0.25">57.4%</text>
<text x="292.75" y="400.00" font-size="17.5" fill="#111" font-weight="normal" textLength="52.70" lengthAdjust="spacingAndGlyphs"  stroke="#111" stroke-width="0.25">61.8%</text>
<text x="471.86" y="28.80" font-size="17" fill="#2020ff" font-weight="normal" textLength="20.48" lengthAdjust="spacingAndGlyphs"  stroke="#2020ff" stroke-width="0.45">R7</text>
<text x="486.76" y="162.30" font-size="17" fill="#2020ff" font-weight="normal" textLength="17.78" lengthAdjust="spacingAndGlyphs"  stroke="#2020ff" stroke-width="0.45">L7</text>
<text x="285.06" y="190.70" font-size="17" fill="#2020ff" font-weight="normal" textLength="105.18" lengthAdjust="spacingAndGlyphs"  stroke="#2020ff" stroke-width="0.45">LBP14-RKRR</text>
<line x1="482.00" y1="161.80" x2="443.81" y2="183.30" stroke="#4343ff" stroke-width="1.35"/>
<polygon points="434.40,188.60 442.90,177.61 448.20,187.03" fill="#4343ff"/>
<line x1="318.40" y1="197.70" x2="287.23" y2="221.88" stroke="#4343ff" stroke-width="1.35"/>
<polygon points="278.70,228.50 285.50,216.39 292.12,224.92" fill="#4343ff"/>
<text transform="translate(120.3,295.8) rotate(-44.5)" font-size="21.6" fill="#111" stroke="#111" stroke-width="0.3">Degestion time</text>
<text transform="translate(484.2,313.0) rotate(-43.4)" font-size="22" fill="#111" stroke="#111" stroke-width="0.3">Cleavage efficiency</text>
<text transform="translate(0.6,21.3) scale(0.93,1.015)" font-size="36" font-weight="bold" fill="#000">a</text>
<text transform="translate(5.5,493) scale(1.08,1)" font-size="36" font-weight="bold" fill="#000">b</text>
<rect x="118.5" y="496.8" width="2.9" height="271.5" fill="#000"/>
<rect x="118.5" y="765.0" width="527.6" height="3.5" fill="#000"/>
<rect x="111.5" y="765.0" width="8" height="3.5" fill="#000"/>
<rect x="111.5" y="496.80" width="8" height="2.6" fill="#000"/>
<rect x="111.5" y="630.70" width="8" height="2.6" fill="#000"/>
<rect x="118.50" y="766.3" width="2.8" height="8.4" fill="#000"/>
<text x="99.46" y="795.20" font-size="17" fill="#111" font-weight="normal" textLength="40.88" lengthAdjust="spacingAndGlyphs"  stroke="#111" stroke-width="0.25">2000</text>
<rect x="205.95" y="766.3" width="2.8" height="8.4" fill="#000"/>
<text x="186.91" y="795.20" font-size="17" fill="#111" font-weight="normal" textLength="40.88" lengthAdjust="spacingAndGlyphs"  stroke="#111" stroke-width="0.25">2500</text>
<rect x="293.40" y="766.3" width="2.8" height="8.4" fill="#000"/>
<text x="274.36" y="795.20" font-size="17" fill="#111" font-weight="normal" textLength="40.88" lengthAdjust="spacingAndGlyphs"  stroke="#111" stroke-width="0.25">3000</text>
<rect x="380.85" y="766.3" width="2.8" height="8.4" fill="#000"/>
<text x="361.81" y="795.20" font-size="17" fill="#111" font-weight="normal" textLength="40.88" lengthAdjust="spacingAndGlyphs"  stroke="#111" stroke-width="0.25">3500</text>
<rect x="468.30" y="766.3" width="2.8" height="8.4" fill="#000"/>
<text x="449.26" y="795.20" font-size="17" fill="#111" font-weight="normal" textLength="40.88" lengthAdjust="spacingAndGlyphs"  stroke="#111" stroke-width="0.25">4000</text>
<rect x="555.75" y="766.3" width="2.8" height="8.4" fill="#000"/>
<text x="536.71" y="795.20" font-size="17" fill="#111" font-weight="normal" textLength="40.88" lengthAdjust="spacingAndGlyphs"  stroke="#111" stroke-width="0.25">4500</text>
<rect x="643.20" y="766.3" width="2.8" height="8.4" fill="#000"/>
<text x="624.16" y="795.20" font-size="17" fill="#111" font-weight="normal" textLength="40.88" lengthAdjust="spacingAndGlyphs"  stroke="#111" stroke-width="0.25">5000</text>
<path d="M121.6,766.7 L121.60,765.37 L122.64,764.60 L123.62,765.32 L124.67,765.51 L125.67,765.17 L126.85,765.52 L127.73,765.52 L128.92,765.07 L129.64,764.45 L130.92,765.14 L131.99,765.51 L132.70,765.30 L133.44,765.51 L134.28,765.52 L135.26,765.38 L136.47,765.31 L137.55,765.33 L138.65,765.37 L139.51,764.41 L140.81,764.80 L141.94,765.46 L142.77,765.47 L143.52,764.95 L144.46,764.78 L145.39,764.51 L146.60,765.52 L147.42,764.64 L148.40,764.45 L149.34,765.52 L150.42,764.92 L151.28,765.52 L152.18,764.50 L153.34,765.52 L154.18,765.52 L154.92,764.89 L155.73,765.26 L156.70,765.51 L157.83,765.52 L158.92,765.52 L159.87,765.50 L160.74,764.48 L161.92,765.47 L163.15,765.50 L164.08,764.77 L165.17,765.52 L166.46,765.50 L167.32,764.93 L168.22,765.47 L168.96,765.52 L170.01,765.49 L171.07,765.43 L172.04,764.51 L173.03,765.24 L174.25,765.51 L175.04,764.64 L176.24,765.49 L177.05,765.00 L178.31,765.51 L179.58,764.70 L180.65,765.40 L181.41,765.52 L182.69,765.49 L183.81,765.49 L185.00,765.22 L185.88,765.51 L187.01,765.52 L187.85,765.26 L189.06,765.19 L189.93,764.62 L190.75,765.52 L191.61,765.38 L192.35,765.51 L193.27,765.25 L194.05,765.44 L195.28,764.45 L196.38,765.08 L197.43,765.52 L198.15,765.52 L199.39,765.06 L200.67,765.53 L201.75,765.35 L202.89,765.47 L204.19,765.53 L205.22,765.02 L206.46,765.02 L207.58,764.92 L208.83,765.46 L209.94,764.71 L211.16,765.42 L212.34,764.80 L213.38,765.22 L214.31,765.27 L215.38,765.55 L216.46,764.52 L217.69,765.08 L218.62,765.07 L219.67,765.42 L220.87,765.55 L222.02,765.56 L223.08,765.40 L223.92,765.15 L224.92,765.26 L226.17,765.53 L226.88,765.52 L227.99,765.55 L228.79,764.79 L229.88,765.44 L231.12,765.51 L232.22,765.56 L233.18,765.01 L234.43,764.87 L235.36,765.33 L236.25,765.57 L237.24,764.97 L238.45,765.18 L239.72,765.55 L240.53,765.46 L241.39,765.57 L242.34,765.30 L243.34,765.54 L244.54,764.71 L245.51,765.59 L246.23,764.94 L246.95,765.21 L248.00,765.55 L249.17,765.60 L249.95,765.47 L250.67,765.04 L251.51,765.60 L252.24,765.32 L253.21,765.33 L254.30,765.09 L255.57,765.27 L256.39,765.47 L257.20,765.61 L258.18,765.24 L258.99,765.58 L259.90,765.27 L260.91,765.36 L262.07,765.54 L263.24,764.96 L263.99,764.92 L265.13,765.62 L266.10,765.37 L267.34,765.55 L268.39,765.04 L269.56,764.93 L270.54,765.35 L271.36,765.28 L272.56,765.37 L273.69,765.62 L274.93,764.89 L276.21,765.47 L277.39,765.60 L278.63,765.12 L279.54,765.64 L280.51,765.47 L281.67,765.52 L282.38,765.20 L283.12,765.22 L283.93,765.60 L285.10,765.65 L285.89,765.51 L287.02,765.18 L288.14,765.02 L289.13,765.02 L289.88,765.64 L290.90,765.63 L292.04,765.43 L293.05,765.20 L294.09,765.63 L295.02,765.21 L296.26,765.66 L297.47,765.04 L298.48,765.50 L299.30,765.53 L300.30,765.48 L301.02,765.05 L302.03,765.61 L303.21,765.52 L304.20,765.41 L304.94,765.54 L305.89,765.09 L307.15,765.66 L308.13,765.68 L309.09,765.29 L310.33,765.58 L311.22,765.67 L312.29,765.15 L313.07,765.34 L313.78,765.68 L314.62,765.44 L315.51,765.64 L316.59,765.69 L317.72,765.69 L318.73,765.67 L319.55,765.56 L320.51,765.64 L321.46,765.57 L322.25,765.68 L323.33,765.49 L324.35,765.28 L325.42,765.28 L326.26,765.41 L327.44,765.23 L328.33,765.66 L329.59,765.69 L330.89,765.26 L331.67,765.68 L332.80,765.68 L333.56,765.33 L334.51,765.38 L335.29,765.64 L336.40,765.71 L337.22,765.48 L338.47,765.17 L339.24,765.60 L340.39,765.61 L341.50,765.70 L342.25,765.71 L342.97,765.58 L343.98,765.57 L344.76,765.70 L345.59,765.35 L346.88,765.25 L347.64,765.71 L348.91,765.64 L350.07,765.68 L351.05,765.61 L352.01,765.57 L352.71,765.50 L353.92,765.71 L354.89,765.47 L355.84,765.71 L356.64,765.62 L357.34,765.32 L358.53,765.50 L359.74,765.56 L360.69,765.58 L361.69,765.23 L362.87,765.71 L364.12,765.48 L365.28,765.42 L366.23,765.34 L367.46,765.53 L368.62,765.47 L369.56,765.51 L370.30,765.70 L371.28,765.73 L372.20,765.57 L373.27,765.72 L374.54,765.56 L375.44,765.57 L376.48,765.64 L377.42,765.26 L378.50,765.54 L379.66,765.29 L380.37,765.60 L381.51,765.73 L382.46,765.74 L383.27,765.70 L384.03,765.73 L385.28,765.64 L386.28,765.32 L387.32,765.30 L388.40,765.48 L389.15,765.62 L390.31,765.75 L391.56,765.75 L392.55,765.75 L393.54,765.62 L394.28,765.37 L395.23,765.67 L396.29,765.72 L397.16,765.61 L398.20,765.74 L399.33,765.74 L400.04,765.75 L400.76,765.75 L401.91,765.72 L403.15,765.56 L403.88,765.36 L405.15,765.76 L406.39,765.71 L407.38,765.38 L408.23,765.69 L409.49,765.59 L410.47,765.39 L411.66,765.66 L412.43,765.65 L413.40,765.76 L414.13,765.69 L414.91,765.72 L416.01,765.72 L416.87,765.67 L417.82,765.57 L418.84,765.40 L420.11,765.60 L420.95,765.77 L422.19,765.57 L423.26,765.75 L424.12,765.63 L425.16,765.67 L426.24,765.59 L427.06,765.76 L428.34,765.47 L429.57,765.77 L430.31,765.76 L431.26,765.66 L432.02,765.69 L432.77,765.77 L433.87,765.69 L434.95,765.74 L435.94,765.77 L436.85,765.60 L438.05,765.77 L438.82,765.55 L439.90,765.58 L440.72,765.73 L441.58,765.55 L442.50,765.65 L443.79,765.75 L444.82,765.59 L446.07,765.73 L447.00,765.77 L448.22,765.77 L448.97,765.69 L449.96,765.63 L450.84,765.58 L451.59,765.77 L452.68,765.77 L453.57,765.61 L454.68,765.76 L455.47,765.75 L456.60,765.74 L457.37,765.62 L458.42,765.47 L459.68,765.48 L460.64,765.56 L461.53,765.75 L462.47,765.46 L463.70,765.76 L464.62,765.74 L465.54,765.74 L466.47,765.77 L467.51,765.56 L468.53,765.54 L469.57,765.77 L470.73,765.50 L471.59,765.77 L472.60,765.69 L473.64,765.43 L474.74,765.56 L475.47,765.69 L476.65,765.77 L477.40,765.60 L478.63,765.77 L479.72,765.77 L480.86,765.65 L481.71,765.77 L482.87,765.70 L484.03,765.74 L484.93,765.43 L486.03,765.71 L487.06,765.61 L488.18,765.47 L489.13,765.54 L490.23,765.52 L491.41,765.54 L492.64,765.44 L493.73,765.70 L494.85,765.56 L495.81,765.73 L496.60,765.60 L497.89,765.74 L498.69,765.77 L499.65,765.76 L500.93,765.77 L501.81,765.77 L502.90,765.58 L503.71,765.77 L504.68,765.68 L505.93,765.77 L506.70,765.77 L507.53,765.76 L508.66,765.67 L509.49,765.77 L510.36,765.77 L511.51,765.75 L512.54,765.55 L513.53,765.76 L514.76,765.48 L515.67,765.69 L516.94,765.71 L517.77,765.77 L519.04,765.56 L519.97,765.70 L520.98,765.76 L522.28,765.64 L523.12,765.77 L524.10,765.74 L525.28,765.61 L526.35,765.77 L527.14,765.75 L528.00,765.51 L529.01,765.65 L530.30,765.76 L531.32,765.77 L532.48,765.77 L533.68,765.53 L534.87,765.77 L535.73,765.61 L536.49,765.72 L537.47,765.44 L538.52,765.52 L539.41,765.57 L540.36,765.47 L541.11,765.54 L541.94,765.69 L542.95,765.77 L544.15,765.75 L545.04,765.77 L545.92,765.72 L547.05,765.75 L548.16,765.77 L549.10,765.72 L550.38,765.54 L551.47,765.77 L552.40,765.62 L553.24,765.69 L554.21,765.77 L555.51,765.56 L556.33,765.66 L557.21,765.74 L558.23,765.76 L559.13,765.74 L560.23,765.76 L561.05,765.60 L561.95,765.45 L562.99,765.61 L563.89,765.54 L564.64,765.77 L565.40,765.63 L566.52,765.77 L567.47,765.53 L568.52,765.77 L569.36,765.77 L570.13,765.74 L570.88,765.47 L571.83,765.70 L572.92,765.58 L574.11,765.74 L575.01,765.73 L575.72,765.74 L576.84,765.42 L578.01,765.64 L579.08,765.77 L579.98,765.75 L581.07,765.77 L582.00,765.71 L583.17,765.54 L584.24,765.77 L585.40,765.48 L586.42,765.75 L587.42,765.77 L588.55,765.41 L589.56,765.61 L590.76,765.77 L592.03,765.66 L592.85,765.77 L593.70,765.68 L594.81,765.75 L596.07,765.75 L597.05,765.77 L598.33,765.77 L599.58,765.69 L600.61,765.69 L601.47,765.48 L602.77,765.55 L603.83,765.77 L605.02,765.76 L606.26,765.76 L607.30,765.54 L608.12,765.69 L608.86,765.77 L609.67,765.41 L610.93,765.64 L611.82,765.64 L612.96,765.74 L614.02,765.56 L614.73,765.77 L615.71,765.77 L616.64,765.68 L617.44,765.70 L618.30,765.68 L619.20,765.65 L619.92,765.64 L620.71,765.44 L621.77,765.72 L622.72,765.66 L623.83,765.59 L624.98,765.71 L626.28,765.53 L627.49,765.73 L628.45,765.68 L629.69,765.70 L630.71,765.73 L631.95,765.75 L632.68,765.61 L633.92,765.60 L634.98,765.59 L635.87,765.67 L636.61,765.77 L637.58,765.71 L638.51,765.77 L639.63,765.70 L640.47,765.76 L641.41,765.76 L642.15,765.48 L643.43,765.64 L644.65,765.73 L645.10,766.7 Z" fill="#e8412c" stroke="none"/>
<line x1="121.60" y1="766.70" x2="121.60" y2="759.60" stroke="#e8412c" stroke-width="1.5"/>
<line x1="125.50" y1="766.70" x2="125.50" y2="763.00" stroke="#e8412c" stroke-width="1.0"/>
<line x1="130.30" y1="766.70" x2="130.30" y2="762.60" stroke="#e8412c" stroke-width="1.2"/>
<line x1="136.30" y1="766.70" x2="136.30" y2="761.80" stroke="#e8412c" stroke-width="1.2"/>
<line x1="138.60" y1="766.70" x2="138.60" y2="762.50" stroke="#e8412c" stroke-width="1.0"/>
<line x1="140.50" y1="766.70" x2="140.50" y2="749.20" stroke="#e8412c" stroke-width="1.8"/>
<line x1="143.00" y1="766.70" x2="143.00" y2="503.60" stroke="#e8412c" stroke-width="1.7"/>
<line x1="144.90" y1="766.70" x2="144.90" y2="757.50" stroke="#e8412c" stroke-width="1.3"/>
<line x1="147.00" y1="766.70" x2="147.00" y2="748.60" stroke="#e8412c" stroke-width="1.9"/>
<line x1="148.40" y1="766.70" x2="148.40" y2="757.00" stroke="#e8412c" stroke-width="1.0"/>
<line x1="149.60" y1="766.70" x2="149.60" y2="758.60" stroke="#e8412c" stroke-width="1.4"/>
<line x1="151.20" y1="766.70" x2="151.20" y2="761.00" stroke="#e8412c" stroke-width="1.2"/>
<line x1="152.80" y1="766.70" x2="152.80" y2="762.30" stroke="#e8412c" stroke-width="1.2"/>
<line x1="154.60" y1="766.70" x2="154.60" y2="763.00" stroke="#e8412c" stroke-width="1.2"/>
<line x1="157.00" y1="766.70" x2="157.00" y2="763.40" stroke="#e8412c" stroke-width="1.0"/>
<line x1="161.40" y1="766.70" x2="161.40" y2="755.60" stroke="#e8412c" stroke-width="1.7"/>
<line x1="163.00" y1="766.70" x2="163.00" y2="763.00" stroke="#e8412c" stroke-width="1.0"/>
<line x1="169.00" y1="766.70" x2="169.00" y2="763.30" stroke="#e8412c" stroke-width="1.0"/>
<line x1="176.00" y1="766.70" x2="176.00" y2="763.30" stroke="#e8412c" stroke-width="1.0"/>
<line x1="182.80" y1="766.70" x2="182.80" y2="759.80" stroke="#e8412c" stroke-width="1.6"/>
<line x1="335.80" y1="766.70" x2="335.80" y2="759.90" stroke="#e8412c" stroke-width="1.3"/>
<line x1="394.20" y1="766.70" x2="394.20" y2="763.60" stroke="#e8412c" stroke-width="1.1"/>
<line x1="552.60" y1="766.70" x2="552.60" y2="751.30" stroke="#e8412c" stroke-width="1.5"/>
<line x1="551.00" y1="766.70" x2="551.00" y2="763.20" stroke="#e8412c" stroke-width="1.0"/>
<line x1="554.30" y1="766.70" x2="554.30" y2="763.40" stroke="#e8412c" stroke-width="1.0"/>
<line x1="247.00" y1="766.70" x2="247.00" y2="763.60" stroke="#e8412c" stroke-width="1.0"/>
<line x1="213.00" y1="766.70" x2="213.00" y2="763.60" stroke="#e8412c" stroke-width="1.0"/>
<text x="97.66" y="772.40" font-size="17" fill="#111" font-weight="normal" textLength="9.48" lengthAdjust="spacingAndGlyphs"  stroke="#111" stroke-width="0.25">0</text>
<text x="59.3" y="638.3" font-size="17" fill="#111" textLength="39.5" lengthAdjust="spacingAndGlyphs">5×10</text>
<text x="100.8" y="632" font-size="11.5" fill="#111" textLength="8" lengthAdjust="spacingAndGlyphs">4</text>
<text x="59.6" y="503.7" font-size="17" fill="#111" textLength="39.5" lengthAdjust="spacingAndGlyphs">1×10</text>
<text x="100.8" y="498.3" font-size="11.5" fill="#111" textLength="8" lengthAdjust="spacingAndGlyphs">5</text>
<text x="120.56" y="491.90" font-size="17" fill="#111" font-weight="normal" textLength="69.88" lengthAdjust="spacingAndGlyphs"  stroke="#111" stroke-width="0.25">2133.174</text>
<rect x="128.8" y="497.4" width="43.1" height="1.5" fill="#222"/>
<text x="162.36" y="749.60" font-size="17" fill="#111" font-weight="normal" textLength="69.78" lengthAdjust="spacingAndGlyphs"  stroke="#111" stroke-width="0.25">2361.423</text>
<rect x="166.9" y="754.0" width="42.7" height="1.6" fill="#222"/>
<text x="514.06" y="743.50" font-size="17" fill="#111" font-weight="normal" textLength="70.88" lengthAdjust="spacingAndGlyphs"  stroke="#111" stroke-width="0.25">4475.322</text>
<rect x="530.0" y="745.7" width="43.3" height="1.6" fill="#222"/>
<text x="202.86" y="547.80" font-size="17" fill="#2020ff" font-weight="normal" textLength="17.68" lengthAdjust="spacingAndGlyphs"  stroke="#2020ff" stroke-width="0.45">L7</text>
<text x="260.26" y="708.80" font-size="17" fill="#2020ff" font-weight="normal" textLength="105.98" lengthAdjust="spacingAndGlyphs"  stroke="#2020ff" stroke-width="0.45">LBP14-RKRR</text>
<text x="596.76" y="714.20" font-size="17" fill="#2020ff" font-weight="normal" textLength="20.38" lengthAdjust="spacingAndGlyphs"  stroke="#2020ff" stroke-width="0.45">R7</text>
<line x1="202.00" y1="533.50" x2="183.78" y2="515.00" stroke="#4343ff" stroke-width="1.35"/>
<polygon points="176.20,507.30 189.03,512.63 181.33,520.21" fill="#4343ff"/>
<line x1="254.60" y1="708.00" x2="235.17" y2="722.45" stroke="#4343ff" stroke-width="1.35"/>
<polygon points="226.50,728.90 233.55,716.93 239.99,725.59" fill="#4343ff"/>
<line x1="590.80" y1="708.00" x2="571.69" y2="722.09" stroke="#4343ff" stroke-width="1.35"/>
<polygon points="563.00,728.50 570.10,716.56 576.51,725.25" fill="#4343ff"/>
<text x="364.48" y="827.60" font-size="21" fill="#111" font-weight="normal" textLength="34.44" lengthAdjust="spacingAndGlyphs"  stroke="#111" stroke-width="0.25">m/z</text>
<text transform="translate(41.4,684.6) rotate(-90) scale(1,1.03)" font-size="21.5" fill="#111" textLength="102.5" lengthAdjust="spacingAndGlyphs">Itens.[a.u.]</text>
</svg>
</body></html>
